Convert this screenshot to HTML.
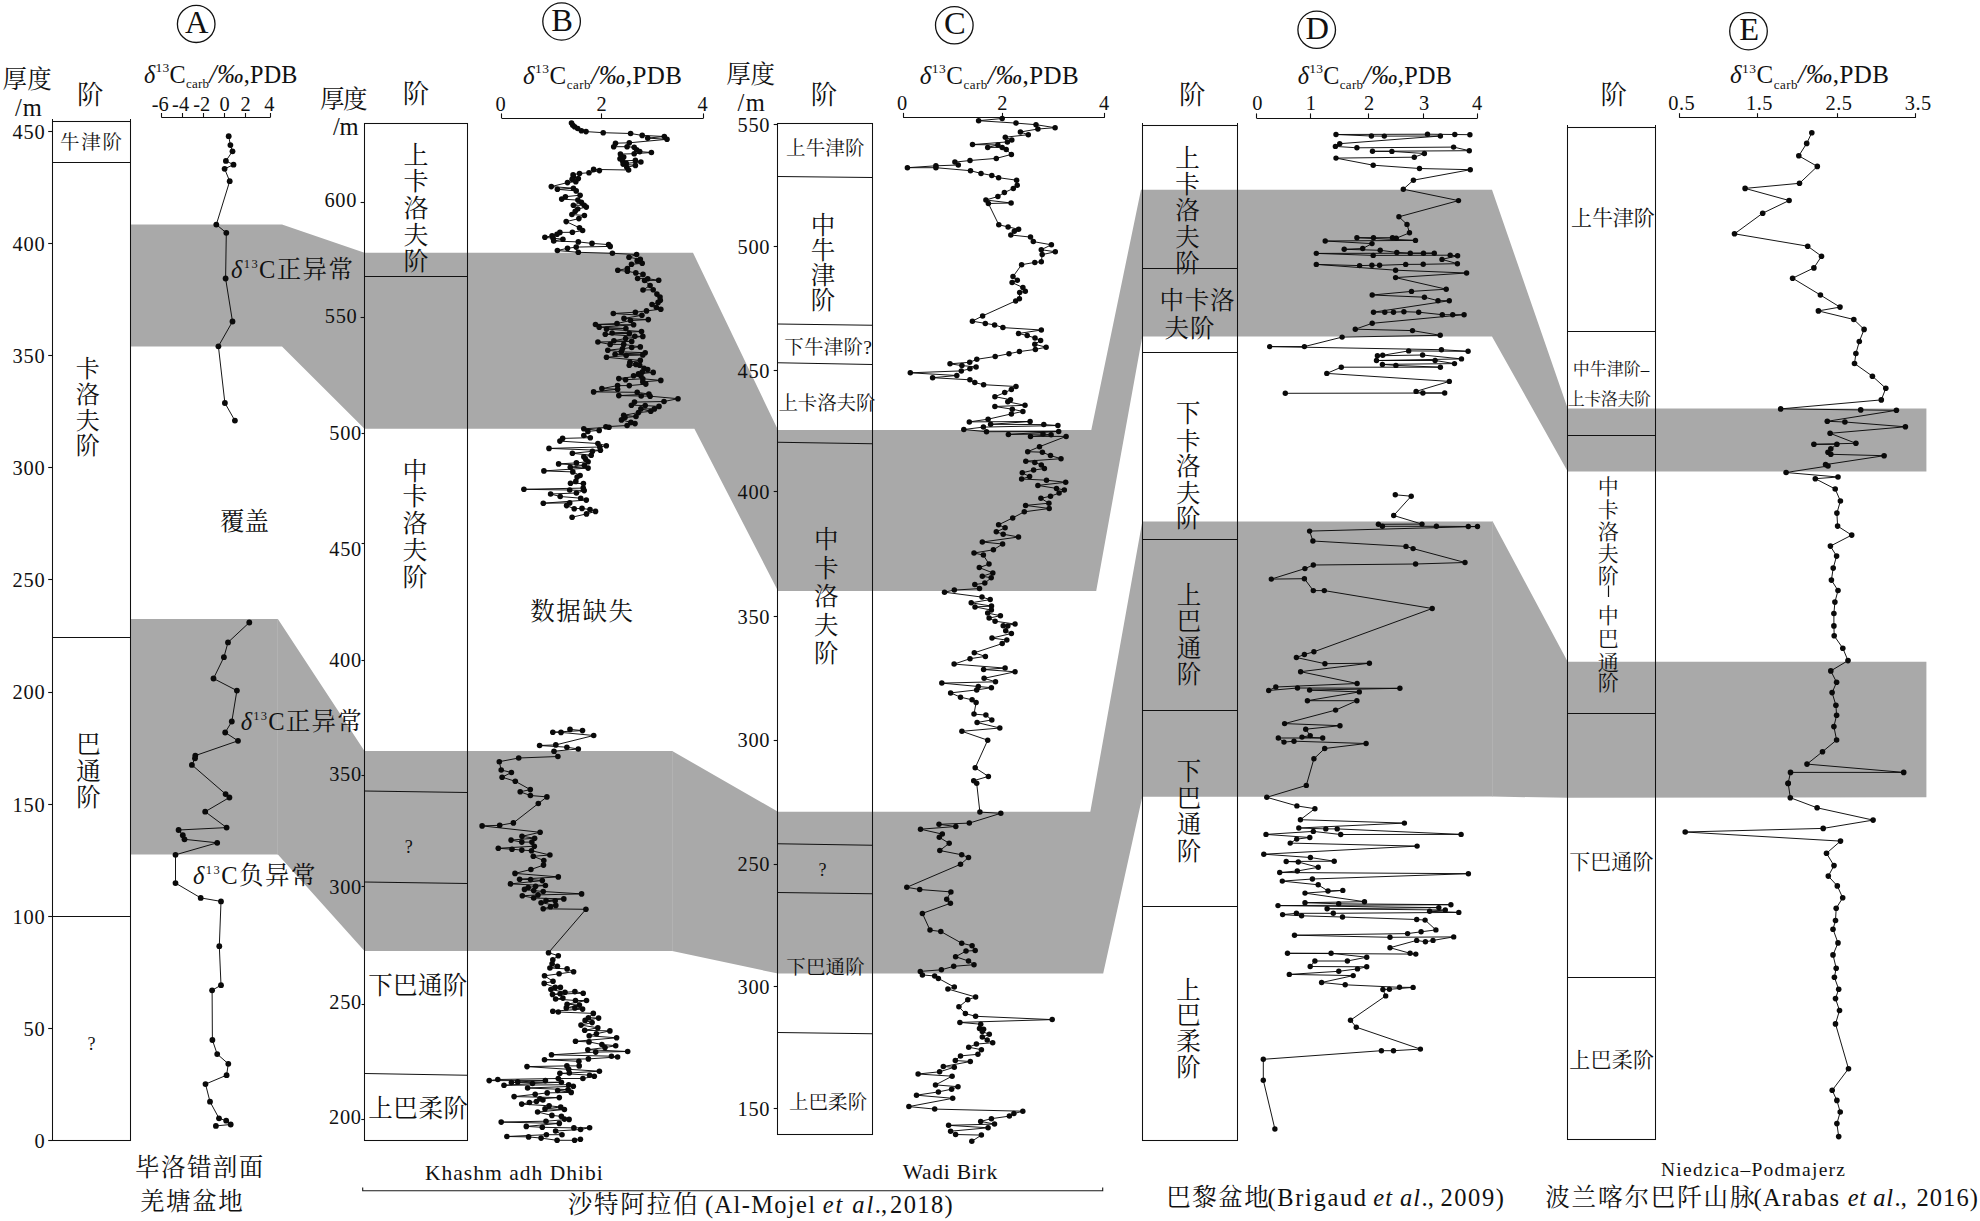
<!DOCTYPE html>
<html lang="zh"><head><meta charset="utf-8"><title>δ13C carb stratigraphic correlation</title>
<style>
html,body{margin:0;padding:0;background:#fff;}
body{width:1980px;height:1221px;overflow:hidden;}
svg{display:block;font-family:'Liberation Serif','Noto Serif CJK SC',serif;fill:#111;}
svg text{font-weight:400;}
</style></head><body>
<svg width="1980" height="1221" viewBox="0 0 1980 1221">
<rect width="1980" height="1221" fill="#fff"/>
<polygon points="130.0,224.5 282.0,224.5 364.5,252.7 693.0,252.7 778.0,430.0 1091.3,430.0 1141.0,189.8 1492.0,189.8 1567.7,408.4 1926.4,408.4 1926.4,471.5 1567.7,471.5 1492.0,336.4 1142.3,336.4 1096.2,591.0 778.0,591.0 694.4,428.7 364.5,428.7 282.0,346.6 130.0,346.6" fill="#a9a9a9"/>
<polygon points="130.0,619.0 277.9,619.0 364.5,751.0 672.2,751.0 778.0,811.8 1090.3,811.8 1142.3,521.5 1492.7,521.5 1567.7,661.8 1926.4,661.8 1926.4,797.3 1567.7,797.8 1492.7,796.6 1142.3,796.8 1103.2,973.6 778.0,973.6 672.2,951.0 364.5,951.0 277.9,854.5 130.0,854.5" fill="#a9a9a9"/>
<line x1="277.5" y1="619.0" x2="277.5" y2="854.5" stroke="#b8b8b8" stroke-width="0.60"/>
<line x1="672.5" y1="751.0" x2="672.5" y2="951.0" stroke="#b8b8b8" stroke-width="0.60"/>
<line x1="1492.5" y1="521.5" x2="1492.5" y2="796.6" stroke="#b8b8b8" stroke-width="0.60"/>
<rect x="52.5" y="121.5" width="78.0" height="1019.0" fill="none" stroke="#111" stroke-width="1.05"/>
<line x1="52.5" y1="162.5" x2="130.5" y2="162.5" stroke="#111" stroke-width="1.05"/>
<line x1="52.5" y1="637.5" x2="130.5" y2="637.5" stroke="#111" stroke-width="1.05"/>
<line x1="52.5" y1="916.5" x2="130.5" y2="916.5" stroke="#111" stroke-width="1.05"/>
<line x1="52.5" y1="119.0" x2="52.5" y2="121.5" stroke="#111" stroke-width="1.05"/>
<line x1="130.5" y1="119.0" x2="130.5" y2="121.5" stroke="#111" stroke-width="1.05"/>
<rect x="364.5" y="123.5" width="103.0" height="1017.0" fill="none" stroke="#111" stroke-width="1.05"/>
<line x1="364.5" y1="276.5" x2="467.5" y2="276.5" stroke="#111" stroke-width="1.05"/>
<line x1="364.5" y1="791.0" x2="467.5" y2="792.4" stroke="#111" stroke-width="1.05"/>
<line x1="364.5" y1="882.0" x2="467.5" y2="883.4" stroke="#111" stroke-width="1.05"/>
<line x1="364.5" y1="1073.4" x2="467.5" y2="1075.2" stroke="#111" stroke-width="1.05"/>
<rect x="777.5" y="123.5" width="95.0" height="1011.0" fill="none" stroke="#111" stroke-width="1.05"/>
<line x1="777.5" y1="176.4" x2="872.5" y2="177.4" stroke="#111" stroke-width="1.05"/>
<line x1="777.5" y1="324.0" x2="872.5" y2="325.3" stroke="#111" stroke-width="1.05"/>
<line x1="777.5" y1="362.8" x2="872.5" y2="364.5" stroke="#111" stroke-width="1.05"/>
<line x1="777.5" y1="442.3" x2="872.5" y2="443.7" stroke="#111" stroke-width="1.05"/>
<line x1="777.5" y1="843.8" x2="872.5" y2="845.2" stroke="#111" stroke-width="1.05"/>
<line x1="777.5" y1="892.4" x2="872.5" y2="893.8" stroke="#111" stroke-width="1.05"/>
<line x1="777.5" y1="1032.4" x2="872.5" y2="1033.8" stroke="#111" stroke-width="1.05"/>
<rect x="1142.5" y="125.5" width="95.0" height="1015.0" fill="none" stroke="#111" stroke-width="1.05"/>
<line x1="1142.5" y1="268.5" x2="1237.5" y2="268.5" stroke="#111" stroke-width="1.05"/>
<line x1="1142.5" y1="352.5" x2="1237.5" y2="352.5" stroke="#111" stroke-width="1.05"/>
<line x1="1142.5" y1="539.5" x2="1237.5" y2="539.5" stroke="#111" stroke-width="1.05"/>
<line x1="1142.5" y1="710.5" x2="1237.5" y2="710.5" stroke="#111" stroke-width="1.05"/>
<line x1="1142.5" y1="906.5" x2="1237.5" y2="906.5" stroke="#111" stroke-width="1.05"/>
<line x1="1142.5" y1="123.0" x2="1142.5" y2="125.5" stroke="#111" stroke-width="1.05"/>
<line x1="1237.5" y1="123.0" x2="1237.5" y2="125.5" stroke="#111" stroke-width="1.05"/>
<rect x="1567.5" y="127.5" width="88.0" height="1012.0" fill="none" stroke="#111" stroke-width="1.05"/>
<line x1="1567.5" y1="331.5" x2="1655.5" y2="331.5" stroke="#111" stroke-width="1.05"/>
<line x1="1567.5" y1="435.5" x2="1655.5" y2="435.5" stroke="#111" stroke-width="1.05"/>
<line x1="1567.5" y1="713.5" x2="1655.5" y2="713.5" stroke="#111" stroke-width="1.05"/>
<line x1="1567.5" y1="977.5" x2="1655.5" y2="977.5" stroke="#111" stroke-width="1.05"/>
<line x1="1567.5" y1="125.0" x2="1567.5" y2="127.5" stroke="#111" stroke-width="1.05"/>
<line x1="1655.5" y1="125.0" x2="1655.5" y2="127.5" stroke="#111" stroke-width="1.05"/>
<line x1="48.2" y1="131.5" x2="52.4" y2="131.5" stroke="#111" stroke-width="1.10"/>
<text x="45.3" y="138.5" font-size="20.4" text-anchor="end" letter-spacing="0.7">450</text>
<line x1="48.2" y1="243.5" x2="52.4" y2="243.5" stroke="#111" stroke-width="1.10"/>
<text x="45.3" y="250.7" font-size="20.4" text-anchor="end" letter-spacing="0.7">400</text>
<line x1="48.2" y1="355.5" x2="52.4" y2="355.5" stroke="#111" stroke-width="1.10"/>
<text x="45.3" y="362.8" font-size="20.4" text-anchor="end" letter-spacing="0.7">350</text>
<line x1="48.2" y1="467.5" x2="52.4" y2="467.5" stroke="#111" stroke-width="1.10"/>
<text x="45.3" y="475.0" font-size="20.4" text-anchor="end" letter-spacing="0.7">300</text>
<line x1="48.2" y1="579.5" x2="52.4" y2="579.5" stroke="#111" stroke-width="1.10"/>
<text x="45.3" y="587.2" font-size="20.4" text-anchor="end" letter-spacing="0.7">250</text>
<line x1="48.2" y1="692.5" x2="52.4" y2="692.5" stroke="#111" stroke-width="1.10"/>
<text x="45.3" y="699.3" font-size="20.4" text-anchor="end" letter-spacing="0.7">200</text>
<line x1="48.2" y1="804.5" x2="52.4" y2="804.5" stroke="#111" stroke-width="1.10"/>
<text x="45.3" y="811.5" font-size="20.4" text-anchor="end" letter-spacing="0.7">150</text>
<line x1="48.2" y1="916.5" x2="52.4" y2="916.5" stroke="#111" stroke-width="1.10"/>
<text x="45.3" y="923.7" font-size="20.4" text-anchor="end" letter-spacing="0.7">100</text>
<line x1="48.2" y1="1028.5" x2="52.4" y2="1028.5" stroke="#111" stroke-width="1.10"/>
<text x="45.3" y="1035.9" font-size="20.4" text-anchor="end" letter-spacing="0.7">50</text>
<line x1="48.2" y1="1140.5" x2="52.4" y2="1140.5" stroke="#111" stroke-width="1.10"/>
<text x="45.3" y="1148.0" font-size="20.4" text-anchor="end" letter-spacing="0.7">0</text>
<line x1="360.6" y1="202.5" x2="364.7" y2="202.5" stroke="#111" stroke-width="1.10"/>
<text x="357.1" y="207.3" font-size="20.4" text-anchor="end" letter-spacing="0.7">600</text>
<line x1="360.6" y1="317.5" x2="364.7" y2="317.5" stroke="#111" stroke-width="1.10"/>
<text x="357.5" y="323.4" font-size="20.4" text-anchor="end" letter-spacing="0.7">550</text>
<line x1="361.6" y1="433.5" x2="364.7" y2="433.5" stroke="#111" stroke-width="1.10"/>
<text x="362.0" y="439.9" font-size="20.4" text-anchor="end" letter-spacing="0.7">500</text>
<line x1="361.6" y1="543.5" x2="364.7" y2="543.5" stroke="#111" stroke-width="1.10"/>
<text x="362.0" y="556.1" font-size="20.4" text-anchor="end" letter-spacing="0.7">450</text>
<line x1="361.5" y1="660.5" x2="364.7" y2="660.5" stroke="#111" stroke-width="1.10"/>
<text x="361.9" y="666.9" font-size="20.4" text-anchor="end" letter-spacing="0.7">400</text>
<line x1="361.5" y1="775.5" x2="364.7" y2="775.5" stroke="#111" stroke-width="1.10"/>
<text x="361.9" y="781.1" font-size="20.4" text-anchor="end" letter-spacing="0.7">350</text>
<line x1="361.6" y1="886.5" x2="364.7" y2="886.5" stroke="#111" stroke-width="1.10"/>
<text x="362.0" y="894.1" font-size="20.4" text-anchor="end" letter-spacing="0.7">300</text>
<line x1="361.6" y1="1004.5" x2="364.7" y2="1004.5" stroke="#111" stroke-width="1.10"/>
<text x="362.0" y="1008.5" font-size="20.4" text-anchor="end" letter-spacing="0.7">250</text>
<line x1="361.3" y1="1119.5" x2="364.7" y2="1119.5" stroke="#111" stroke-width="1.10"/>
<text x="361.7" y="1124.1" font-size="20.4" text-anchor="end" letter-spacing="0.7">200</text>
<line x1="773.7" y1="124.5" x2="778.0" y2="124.5" stroke="#111" stroke-width="1.10"/>
<text x="770.2" y="131.8" font-size="20.4" text-anchor="end" letter-spacing="0.7">550</text>
<line x1="773.7" y1="246.5" x2="778.0" y2="246.5" stroke="#111" stroke-width="1.10"/>
<text x="770.2" y="253.9" font-size="20.4" text-anchor="end" letter-spacing="0.7">500</text>
<line x1="773.7" y1="370.5" x2="778.0" y2="370.5" stroke="#111" stroke-width="1.10"/>
<text x="770.2" y="377.5" font-size="20.4" text-anchor="end" letter-spacing="0.7">450</text>
<line x1="773.7" y1="491.5" x2="778.0" y2="491.5" stroke="#111" stroke-width="1.10"/>
<text x="770.2" y="498.5" font-size="20.4" text-anchor="end" letter-spacing="0.7">400</text>
<line x1="773.7" y1="616.5" x2="778.0" y2="616.5" stroke="#111" stroke-width="1.10"/>
<text x="770.2" y="623.5" font-size="20.4" text-anchor="end" letter-spacing="0.7">350</text>
<line x1="773.7" y1="740.5" x2="778.0" y2="740.5" stroke="#111" stroke-width="1.10"/>
<text x="770.2" y="747.2" font-size="20.4" text-anchor="end" letter-spacing="0.7">300</text>
<line x1="773.7" y1="864.5" x2="778.0" y2="864.5" stroke="#111" stroke-width="1.10"/>
<text x="770.2" y="871.2" font-size="20.4" text-anchor="end" letter-spacing="0.7">250</text>
<line x1="773.7" y1="986.5" x2="778.0" y2="986.5" stroke="#111" stroke-width="1.10"/>
<text x="770.2" y="993.5" font-size="20.4" text-anchor="end" letter-spacing="0.7">300</text>
<line x1="773.7" y1="1108.5" x2="778.0" y2="1108.5" stroke="#111" stroke-width="1.10"/>
<text x="770.2" y="1115.5" font-size="20.4" text-anchor="end" letter-spacing="0.7">150</text>
<ellipse cx="196.2" cy="23.9" rx="18.8" ry="18.6" fill="none" stroke="#111" stroke-width="1.3"/>
<text x="196.8" y="32.9" font-size="32.5" text-anchor="middle">A</text>
<ellipse cx="561.6" cy="21.5" rx="18.8" ry="18.6" fill="none" stroke="#111" stroke-width="1.3"/>
<text x="562.2" y="30.5" font-size="32.5" text-anchor="middle">B</text>
<ellipse cx="954.3" cy="25.3" rx="18.8" ry="18.6" fill="none" stroke="#111" stroke-width="1.3"/>
<text x="954.9" y="34.3" font-size="32.5" text-anchor="middle">C</text>
<ellipse cx="1316.7" cy="29.8" rx="18.8" ry="18.6" fill="none" stroke="#111" stroke-width="1.3"/>
<text x="1317.3" y="38.8" font-size="32.5" text-anchor="middle">D</text>
<ellipse cx="1748.5" cy="31.2" rx="18.8" ry="18.6" fill="none" stroke="#111" stroke-width="1.3"/>
<text x="1749.1" y="40.2" font-size="32.5" text-anchor="middle">E</text>
<text x="144.0" y="82.6" font-size="24.2" textLength="153.5" lengthAdjust="spacing"><tspan font-style="italic">δ</tspan><tspan font-size="13.5" dy="-10.5">13</tspan><tspan dy="10.5">C</tspan><tspan font-size="13" dy="5.5">carb</tspan><tspan dy="-5.5" font-style="italic" font-size="26.5">/‰</tspan>,PDB</text>
<text x="523.0" y="83.8" font-size="25.0" textLength="159.0" lengthAdjust="spacing"><tspan font-style="italic">δ</tspan><tspan font-size="13.5" dy="-10.5">13</tspan><tspan dy="10.5">C</tspan><tspan font-size="13" dy="5.5">carb</tspan><tspan dy="-5.5" font-style="italic" font-size="26.5">/‰</tspan>,PDB</text>
<text x="919.7" y="83.8" font-size="25.0" textLength="159.1" lengthAdjust="spacing"><tspan font-style="italic">δ</tspan><tspan font-size="13.5" dy="-10.5">13</tspan><tspan dy="10.5">C</tspan><tspan font-size="13" dy="5.5">carb</tspan><tspan dy="-5.5" font-style="italic" font-size="26.5">/‰</tspan>,PDB</text>
<text x="1297.7" y="83.8" font-size="24.2" textLength="154.1" lengthAdjust="spacing"><tspan font-style="italic">δ</tspan><tspan font-size="13.5" dy="-10.5">13</tspan><tspan dy="10.5">C</tspan><tspan font-size="13" dy="5.5">carb</tspan><tspan dy="-5.5" font-style="italic" font-size="26.5">/‰</tspan>,PDB</text>
<text x="1730.0" y="83.3" font-size="25.0" textLength="159.0" lengthAdjust="spacing"><tspan font-style="italic">δ</tspan><tspan font-size="13.5" dy="-10.5">13</tspan><tspan dy="10.5">C</tspan><tspan font-size="13" dy="5.5">carb</tspan><tspan dy="-5.5" font-style="italic" font-size="26.5">/‰</tspan>,PDB</text>
<text x="2.5" y="87.6" font-size="24.5" textLength="49.3" lengthAdjust="spacing">厚度</text>
<text x="15.0" y="116.0" font-size="24.5" textLength="26.7" lengthAdjust="spacing">/m</text>
<text x="320.0" y="108.0" font-size="24.5" textLength="47.4" lengthAdjust="spacing">厚度</text>
<text x="333.0" y="135.0" font-size="24.5" textLength="25.6" lengthAdjust="spacing">/m</text>
<text x="726.2" y="82.6" font-size="24.5" textLength="48.8" lengthAdjust="spacing">厚度</text>
<text x="737.6" y="111.0" font-size="24.5" textLength="27.2" lengthAdjust="spacing">/m</text>
<text x="77.0" y="103.5" font-size="26.5" textLength="26.5" lengthAdjust="spacing">阶</text>
<text x="402.8" y="102.7" font-size="26.5" textLength="26.5" lengthAdjust="spacing">阶</text>
<text x="810.8" y="103.5" font-size="26.5" textLength="26.5" lengthAdjust="spacing">阶</text>
<text x="1179.0" y="103.5" font-size="26.5" textLength="27.0" lengthAdjust="spacing">阶</text>
<text x="1600.6" y="103.5" font-size="26.5" textLength="26.4" lengthAdjust="spacing">阶</text>
<line x1="161.6" y1="117.5" x2="270.2" y2="117.5" stroke="#111" stroke-width="1.10"/>
<line x1="161.5" y1="113.0" x2="161.5" y2="117.6" stroke="#111" stroke-width="1.10"/>
<line x1="182.5" y1="113.0" x2="182.5" y2="117.6" stroke="#111" stroke-width="1.10"/>
<line x1="203.5" y1="113.0" x2="203.5" y2="117.6" stroke="#111" stroke-width="1.10"/>
<line x1="224.5" y1="113.0" x2="224.5" y2="117.6" stroke="#111" stroke-width="1.10"/>
<line x1="245.5" y1="113.0" x2="245.5" y2="117.6" stroke="#111" stroke-width="1.10"/>
<line x1="270.5" y1="113.0" x2="270.5" y2="117.6" stroke="#111" stroke-width="1.10"/>
<text x="160.3" y="111.0" font-size="20.4" text-anchor="middle">-6</text>
<text x="180.6" y="111.0" font-size="20.4" text-anchor="middle">-4</text>
<text x="201.8" y="111.0" font-size="20.4" text-anchor="middle">-2</text>
<text x="224.7" y="111.0" font-size="20.4" text-anchor="middle">0</text>
<text x="245.6" y="111.0" font-size="20.4" text-anchor="middle">2</text>
<text x="269.3" y="111.0" font-size="20.4" text-anchor="middle">4</text>
<line x1="501.5" y1="118.5" x2="703.6" y2="118.5" stroke="#111" stroke-width="1.10"/>
<line x1="501.5" y1="113.4" x2="501.5" y2="118.0" stroke="#111" stroke-width="1.10"/>
<line x1="601.5" y1="113.4" x2="601.5" y2="118.0" stroke="#111" stroke-width="1.10"/>
<line x1="703.5" y1="113.4" x2="703.5" y2="118.0" stroke="#111" stroke-width="1.10"/>
<text x="500.7" y="110.6" font-size="20.4" text-anchor="middle">0</text>
<text x="601.7" y="110.6" font-size="20.4" text-anchor="middle">2</text>
<text x="702.7" y="110.6" font-size="20.4" text-anchor="middle">4</text>
<line x1="903.1" y1="117.5" x2="1104.8" y2="117.5" stroke="#111" stroke-width="1.10"/>
<line x1="903.5" y1="112.9" x2="903.5" y2="117.5" stroke="#111" stroke-width="1.10"/>
<line x1="1002.5" y1="112.9" x2="1002.5" y2="117.5" stroke="#111" stroke-width="1.10"/>
<line x1="1104.5" y1="112.9" x2="1104.5" y2="117.5" stroke="#111" stroke-width="1.10"/>
<text x="902.2" y="110.0" font-size="20.4" text-anchor="middle">0</text>
<text x="1002.3" y="110.0" font-size="20.4" text-anchor="middle">2</text>
<text x="1104.0" y="110.0" font-size="20.4" text-anchor="middle">4</text>
<line x1="1256.4" y1="118.5" x2="1477.6" y2="118.5" stroke="#111" stroke-width="1.10"/>
<line x1="1256.5" y1="113.4" x2="1256.5" y2="118.0" stroke="#111" stroke-width="1.10"/>
<line x1="1310.5" y1="113.4" x2="1310.5" y2="118.0" stroke="#111" stroke-width="1.10"/>
<line x1="1368.5" y1="113.4" x2="1368.5" y2="118.0" stroke="#111" stroke-width="1.10"/>
<line x1="1423.5" y1="113.4" x2="1423.5" y2="118.0" stroke="#111" stroke-width="1.10"/>
<line x1="1477.5" y1="113.4" x2="1477.5" y2="118.0" stroke="#111" stroke-width="1.10"/>
<text x="1257.3" y="110.0" font-size="20.4" text-anchor="middle">0</text>
<text x="1310.9" y="110.0" font-size="20.4" text-anchor="middle">1</text>
<text x="1369.2" y="110.0" font-size="20.4" text-anchor="middle">2</text>
<text x="1424.0" y="110.0" font-size="20.4" text-anchor="middle">3</text>
<text x="1477.0" y="110.0" font-size="20.4" text-anchor="middle">4</text>
<line x1="1679.4" y1="117.5" x2="1915.7" y2="117.5" stroke="#111" stroke-width="1.10"/>
<line x1="1679.5" y1="113.2" x2="1679.5" y2="117.8" stroke="#111" stroke-width="1.10"/>
<line x1="1757.5" y1="113.2" x2="1757.5" y2="117.8" stroke="#111" stroke-width="1.10"/>
<line x1="1837.5" y1="113.2" x2="1837.5" y2="117.8" stroke="#111" stroke-width="1.10"/>
<line x1="1915.5" y1="113.2" x2="1915.5" y2="117.8" stroke="#111" stroke-width="1.10"/>
<text x="1681.5" y="109.5" font-size="20.4" text-anchor="middle" textLength="26.5" lengthAdjust="spacing">0.5</text>
<text x="1759.2" y="109.5" font-size="20.4" text-anchor="middle" textLength="26.5" lengthAdjust="spacing">1.5</text>
<text x="1838.8" y="109.5" font-size="20.4" text-anchor="middle" textLength="26.5" lengthAdjust="spacing">2.5</text>
<text x="1918.0" y="109.5" font-size="20.4" text-anchor="middle" textLength="26.5" lengthAdjust="spacing">3.5</text>
<text x="60.0" y="148.7" font-size="19.5" textLength="62.0" lengthAdjust="spacing">牛津阶</text>
<text font-size="24.0" text-anchor="middle"><tspan x="87.7" y="376.6">卡</tspan><tspan x="87.7" y="403.1">洛</tspan><tspan x="87.7" y="428.8">夫</tspan><tspan x="87.7" y="454.3">阶</tspan></text>
<text font-size="24.5" text-anchor="middle"><tspan x="88.4" y="752.7">巴</tspan><tspan x="88.4" y="780.2">通</tspan><tspan x="88.4" y="806.3">阶</tspan></text>
<text x="91.4" y="1049.5" font-size="18.0" text-anchor="middle">?</text>
<text x="220.0" y="529.8" font-size="24.5" textLength="49.0" lengthAdjust="spacing">覆盖</text>
<text x="231.0" y="277.5" font-size="24.5" textLength="122.0" lengthAdjust="spacing"><tspan font-style="italic">δ</tspan><tspan font-size="12.5" dy="-10">13</tspan><tspan dy="10">C</tspan>正异常</text>
<text x="240.7" y="730.0" font-size="24.5" textLength="121.1" lengthAdjust="spacing"><tspan font-style="italic">δ</tspan><tspan font-size="12.5" dy="-10">13</tspan><tspan dy="10">C</tspan>正异常</text>
<text x="193.0" y="884.0" font-size="24.5" textLength="122.5" lengthAdjust="spacing"><tspan font-style="italic">δ</tspan><tspan font-size="12.5" dy="-10">13</tspan><tspan dy="10">C</tspan>负异常</text>
<text font-size="25.0" text-anchor="middle"><tspan x="415.9" y="163.7">上</tspan><tspan x="415.9" y="189.5">卡</tspan><tspan x="415.9" y="217.0">洛</tspan><tspan x="415.9" y="243.9">夫</tspan><tspan x="415.9" y="270.3">阶</tspan></text>
<text font-size="25.0" text-anchor="middle"><tspan x="415.0" y="479.5">中</tspan><tspan x="415.0" y="505.3">卡</tspan><tspan x="415.0" y="532.0">洛</tspan><tspan x="415.0" y="558.6">夫</tspan><tspan x="415.0" y="586.0">阶</tspan></text>
<text x="408.8" y="852.5" font-size="18.0" text-anchor="middle">?</text>
<text x="368.3" y="994.3" font-size="24.5" textLength="98.9" lengthAdjust="spacing">下巴通阶</text>
<text x="368.3" y="1116.8" font-size="24.5" textLength="99.7" lengthAdjust="spacing">上巴柔阶</text>
<text x="530.2" y="620.4" font-size="24.5" textLength="102.8" lengthAdjust="spacing">数据缺失</text>
<text x="786.0" y="154.9" font-size="19.5" textLength="78.4" lengthAdjust="spacing">上牛津阶</text>
<text font-size="24.5" text-anchor="middle"><tspan x="823.0" y="234.0">中</tspan><tspan x="823.0" y="258.6">牛</tspan><tspan x="823.0" y="283.9">津</tspan><tspan x="823.0" y="309.0">阶</tspan></text>
<text x="784.3" y="354.3" font-size="19.5" textLength="87.7" lengthAdjust="spacing">下牛津阶?</text>
<text x="778.4" y="410.0" font-size="19.5" textLength="97.0" lengthAdjust="spacing">上卡洛夫阶</text>
<text font-size="24.5" text-anchor="middle"><tspan x="826.3" y="548.4">中</tspan><tspan x="826.3" y="576.7">卡</tspan><tspan x="826.3" y="605.2">洛</tspan><tspan x="826.3" y="634.2">夫</tspan><tspan x="826.3" y="662.3">阶</tspan></text>
<text x="822.4" y="875.5" font-size="18.0" text-anchor="middle">?</text>
<text x="786.2" y="974.2" font-size="19.5" textLength="78.6" lengthAdjust="spacing">下巴通阶</text>
<text x="789.0" y="1108.7" font-size="19.5" textLength="78.2" lengthAdjust="spacing">上巴柔阶</text>
<text font-size="24.5" text-anchor="middle"><tspan x="1187.4" y="166.8">上</tspan><tspan x="1187.4" y="193.1">卡</tspan><tspan x="1187.4" y="219.2">洛</tspan><tspan x="1187.4" y="245.6">夫</tspan><tspan x="1187.4" y="271.8">阶</tspan></text>
<text x="1159.5" y="308.8" font-size="24.5" textLength="74.9" lengthAdjust="spacing">中卡洛</text>
<text x="1164.4" y="337.0" font-size="24.5" textLength="50.1" lengthAdjust="spacing">夫阶</text>
<text font-size="24.5" text-anchor="middle"><tspan x="1188.3" y="422.3">下</tspan><tspan x="1188.3" y="450.0">卡</tspan><tspan x="1188.3" y="475.4">洛</tspan><tspan x="1188.3" y="501.6">夫</tspan><tspan x="1188.3" y="527.4">阶</tspan></text>
<text font-size="24.5" text-anchor="middle"><tspan x="1188.9" y="604.3">上</tspan><tspan x="1188.9" y="630.3">巴</tspan><tspan x="1188.9" y="657.1">通</tspan><tspan x="1188.9" y="682.8">阶</tspan></text>
<text font-size="24.5" text-anchor="middle"><tspan x="1188.9" y="780.3">下</tspan><tspan x="1188.9" y="806.8">巴</tspan><tspan x="1188.9" y="833.3">通</tspan><tspan x="1188.9" y="859.8">阶</tspan></text>
<text font-size="24.5" text-anchor="middle"><tspan x="1188.5" y="998.5">上</tspan><tspan x="1188.5" y="1024.3">巴</tspan><tspan x="1188.5" y="1050.2">柔</tspan><tspan x="1188.5" y="1076.0">阶</tspan></text>
<text x="1571.0" y="224.9" font-size="21.0" textLength="83.7" lengthAdjust="spacing">上牛津阶</text>
<text x="1572.8" y="375.1" font-size="17.0" textLength="76.4" lengthAdjust="spacing">中牛津阶–</text>
<text x="1567.7" y="405.1" font-size="17.0" textLength="83.3" lengthAdjust="spacing">上卡洛夫阶</text>
<text font-size="21.0" text-anchor="middle"><tspan x="1608.3" y="494.2">中</tspan><tspan x="1608.3" y="516.6">卡</tspan><tspan x="1608.3" y="538.9">洛</tspan><tspan x="1608.3" y="561.3">夫</tspan><tspan x="1608.3" y="582.9">阶</tspan></text>
<line x1="1608.5" y1="585.5" x2="1608.5" y2="597.0" stroke="#111" stroke-width="1.20"/>
<text font-size="21.0" text-anchor="middle"><tspan x="1608.3" y="622.5">中</tspan><tspan x="1608.3" y="646.2">巴</tspan><tspan x="1608.3" y="669.6">通</tspan><tspan x="1608.3" y="690.2">阶</tspan></text>
<text x="1569.2" y="868.9" font-size="21.0" textLength="84.2" lengthAdjust="spacing">下巴通阶</text>
<text x="1569.2" y="1066.5" font-size="21.0" textLength="84.8" lengthAdjust="spacing">上巴柔阶</text>
<text x="135.0" y="1176.3" font-size="24.5" textLength="128.3" lengthAdjust="spacing">毕洛错剖面</text>
<text x="140.0" y="1210.1" font-size="24.5" textLength="102.7" lengthAdjust="spacing">羌塘盆地</text>
<text x="425.0" y="1180.0" font-size="21.5" textLength="177.7" lengthAdjust="spacing">Khashm adh Dhibi</text>
<text x="902.7" y="1179.0" font-size="21.5" textLength="94.6" lengthAdjust="spacing">Wadi Birk</text>
<polyline points="362.7,1187.5 362.7,1190.7 1102.7,1190.7 1102.7,1187.5" fill="none" stroke="#1a1a1a" stroke-width="1.1"/>
<text x="567.7" y="1213.3" font-size="24.5" textLength="129.8" lengthAdjust="spacing">沙特阿拉伯</text>
<text x="705.0" y="1213.3" font-size="24.5" textLength="110.0" lengthAdjust="spacing">(Al-Mojel</text>
<text x="822.7" y="1213.3" font-size="24.5" textLength="50.6" lengthAdjust="spacing" font-style="italic">et al</text>
<text x="874.8" y="1213.3" font-size="24.5">.,</text>
<text x="890.0" y="1213.3" font-size="24.5" textLength="62.7" lengthAdjust="spacing">2018)</text>
<text x="1166.3" y="1205.8" font-size="24.5" textLength="102.5" lengthAdjust="spacing">巴黎盆地</text>
<text x="1267.5" y="1205.8" font-size="24.5" textLength="98.5" lengthAdjust="spacing">(Brigaud</text>
<text x="1373.3" y="1205.8" font-size="24.5" textLength="46.7" lengthAdjust="spacing" font-style="italic">et al</text>
<text x="1421.5" y="1205.8" font-size="24.5">.,</text>
<text x="1440.4" y="1205.8" font-size="24.5" textLength="63.6" lengthAdjust="spacing">2009)</text>
<text x="1545.2" y="1206.0" font-size="24.5" textLength="209.3" lengthAdjust="spacing">波兰喀尔巴阡山脉</text>
<text x="1753.5" y="1206.0" font-size="24.5" textLength="85.5" lengthAdjust="spacing">(Arabas</text>
<text x="1847.7" y="1206.0" font-size="24.5" textLength="45.3" lengthAdjust="spacing" font-style="italic">et al</text>
<text x="1894.5" y="1206.0" font-size="24.5">.,</text>
<text x="1916.4" y="1206.0" font-size="24.5" textLength="61.6" lengthAdjust="spacing">2016)</text>
<text x="1661.0" y="1176.0" font-size="19.5" textLength="184.0" lengthAdjust="spacing">Niedzica–Podmajerz</text>
<polyline points="228.7,136.2 230.4,145.1 232.5,151.3 225.9,160.9 233.5,164.7 224.6,168.8 229.7,181.2 216.3,224.6 226.3,232.8 225.6,278.5 232.5,321.5 218.4,346.3 224.9,403.0 234.9,420.6" fill="none" stroke="#0a0a0a" stroke-width="0.95" stroke-linejoin="round"/>
<g fill="#0a0a0a"><circle cx="228.7" cy="136.2" r="2.90"/><circle cx="230.4" cy="145.1" r="2.90"/><circle cx="232.5" cy="151.3" r="2.90"/><circle cx="225.9" cy="160.9" r="2.90"/><circle cx="233.5" cy="164.7" r="2.90"/><circle cx="224.6" cy="168.8" r="2.90"/><circle cx="229.7" cy="181.2" r="2.90"/><circle cx="216.3" cy="224.6" r="2.90"/><circle cx="226.3" cy="232.8" r="2.90"/><circle cx="225.6" cy="278.5" r="2.90"/><circle cx="232.5" cy="321.5" r="2.90"/><circle cx="218.4" cy="346.3" r="2.90"/><circle cx="224.9" cy="403.0" r="2.90"/><circle cx="234.9" cy="420.6" r="2.90"/></g>
<polyline points="249.3,622.5 228.0,642.4 223.9,657.2 213.5,678.5 236.9,690.6 231.8,721.5 225.2,732.5 238.0,740.8 195.3,755.6 195.0,758.3 191.9,764.9 225.6,794.1 229.4,797.5 205.2,811.7 226.6,827.6 178.6,830.0 182.8,835.2 184.5,839.3 217.2,842.8 175.5,854.8 175.5,883.1 200.7,897.9 221.0,901.4 219.3,946.2 221.0,985.2 212.1,990.3 212.4,1040.0 217.2,1054.1 228.3,1063.8 226.6,1075.2 205.5,1084.1 210.0,1101.7 219.0,1118.3 226.2,1120.7 230.7,1124.5 215.9,1125.9" fill="none" stroke="#0a0a0a" stroke-width="0.95" stroke-linejoin="round"/>
<g fill="#0a0a0a"><circle cx="249.3" cy="622.5" r="2.90"/><circle cx="228.0" cy="642.4" r="2.90"/><circle cx="223.9" cy="657.2" r="2.90"/><circle cx="213.5" cy="678.5" r="2.90"/><circle cx="236.9" cy="690.6" r="2.90"/><circle cx="231.8" cy="721.5" r="2.90"/><circle cx="225.2" cy="732.5" r="2.90"/><circle cx="238.0" cy="740.8" r="2.90"/><circle cx="195.3" cy="755.6" r="2.90"/><circle cx="195.0" cy="758.3" r="2.90"/><circle cx="191.9" cy="764.9" r="2.90"/><circle cx="225.6" cy="794.1" r="2.90"/><circle cx="229.4" cy="797.5" r="2.90"/><circle cx="205.2" cy="811.7" r="2.90"/><circle cx="226.6" cy="827.6" r="2.90"/><circle cx="178.6" cy="830.0" r="2.90"/><circle cx="182.8" cy="835.2" r="2.90"/><circle cx="184.5" cy="839.3" r="2.90"/><circle cx="217.2" cy="842.8" r="2.90"/><circle cx="175.5" cy="854.8" r="2.90"/><circle cx="175.5" cy="883.1" r="2.90"/><circle cx="200.7" cy="897.9" r="2.90"/><circle cx="221.0" cy="901.4" r="2.90"/><circle cx="219.3" cy="946.2" r="2.90"/><circle cx="221.0" cy="985.2" r="2.90"/><circle cx="212.1" cy="990.3" r="2.90"/><circle cx="212.4" cy="1040.0" r="2.90"/><circle cx="217.2" cy="1054.1" r="2.90"/><circle cx="228.3" cy="1063.8" r="2.90"/><circle cx="226.6" cy="1075.2" r="2.90"/><circle cx="205.5" cy="1084.1" r="2.90"/><circle cx="210.0" cy="1101.7" r="2.90"/><circle cx="219.0" cy="1118.3" r="2.90"/><circle cx="226.2" cy="1120.7" r="2.90"/><circle cx="230.7" cy="1124.5" r="2.90"/><circle cx="215.9" cy="1125.9" r="2.90"/></g>
<polyline points="571.5,123.0 572.8,125.2 574.6,126.8 577.7,128.5 581.4,130.7 586.0,131.6 603.2,132.7 630.6,133.5 642.2,135.4 664.3,136.5 647.7,138.1 667.0,139.3 629.3,142.8 615.5,143.2 613.7,146.7 627.1,146.7 634.2,147.3 636.6,149.8 639.7,151.6 651.4,152.5 634.2,153.7 620.4,154.1 621.3,156.5 623.7,157.1 620.0,158.7 622.5,160.8 635.4,160.4 640.9,162.0 626.2,163.3 623.1,164.1 635.4,165.4 626.8,167.3 628.6,170.0 593.6,169.4 599.4,170.6 589.0,172.7 579.5,173.5 573.1,174.7 573.4,176.8 578.3,178.6 572.1,179.2 575.8,181.7 567.5,182.6 551.3,186.6 573.4,188.2 557.4,189.3 576.2,190.9 580.1,195.2 565.4,196.7 561.7,199.1 577.9,200.1 581.4,202.2 573.4,205.3 584.2,205.3 586.3,207.1 577.7,209.0 575.2,211.2 571.9,214.5 584.4,215.5 578.9,218.6 566.2,221.6 579.5,227.8 582.6,230.5 572.4,232.3 559.9,232.4 557.0,234.2 552.1,235.7 544.9,237.3 553.1,238.2 562.9,239.2 553.7,241.0 578.3,241.9 592.0,243.4 608.6,244.6 610.2,246.4 576.2,247.1 567.5,248.3 557.4,250.5 578.3,252.3 612.4,253.3 636.6,254.5 629.0,257.2 640.3,259.4 637.2,260.9 642.2,263.3 631.5,264.3 627.4,268.5 617.8,270.3 627.4,271.3 635.8,272.9 643.0,274.4 637.6,278.5 647.7,278.7 658.7,280.3 644.6,280.5 650.1,285.5 643.0,290.0 653.2,289.8 656.9,294.1 660.0,297.1 660.3,300.2 658.1,302.4 652.0,304.5 656.3,307.3 660.8,309.2 646.5,310.9 635.4,312.2 613.3,313.5 641.9,315.3 624.0,318.4 648.3,319.6 630.5,320.5 617.0,323.5 595.5,324.5 633.6,324.8 599.2,327.2 625.9,328.5 606.5,329.1 641.5,331.5 612.1,333.0 629.3,333.4 605.3,334.2 634.8,336.2 642.8,336.4 625.6,338.5 613.9,340.7 631.7,341.4 597.9,342.0 610.2,344.4 623.7,344.4 640.3,346.9 631.7,347.5 622.5,348.7 607.8,350.2 621.3,351.8 645.2,352.7 615.1,354.3 642.8,354.9 626.2,355.5 606.5,357.3 640.3,360.4 629.9,362.2 636.0,364.4 629.3,365.3 639.7,365.3 644.0,368.4 647.7,369.6 642.2,372.1 653.2,372.4 638.5,373.9 633.6,375.7 640.9,375.7 618.8,378.6 625.6,379.7 642.8,378.8 660.8,380.4 642.8,381.9 645.8,384.1 629.3,385.6 617.6,385.6 601.9,388.6 617.6,389.2 593.6,391.9 637.2,392.3 648.9,394.1 618.8,395.6 641.2,396.0 650.1,396.2 678.0,398.7 664.0,401.5 634.5,402.1 631.4,405.2 645.2,405.6 659.0,406.4 654.4,408.9 640.9,408.9 650.8,411.3 638.5,412.6 623.7,415.3 636.0,416.5 625.0,417.5 621.5,419.9 630.9,422.4 635.0,423.6 627.1,425.5 605.9,426.7 609.0,427.3 583.8,428.8 599.2,430.4 587.9,431.4 583.8,435.5 590.3,437.7 562.6,438.4 559.9,441.1 597.9,443.5 606.3,445.7 599.8,447.0 549.0,448.4 600.4,450.3 592.4,451.3 572.4,453.3 591.2,455.2 583.8,456.8 585.7,459.2 588.1,461.7 576.4,462.9 558.6,463.9 584.4,465.4 570.3,467.2 588.1,468.1 543.9,470.9 572.8,471.9 580.1,475.5 577.1,477.1 575.8,481.4 570.5,483.2 583.4,483.6 583.2,488.1 523.9,489.3 569.7,490.0 584.2,490.6 576.4,493.0 550.6,494.0 560.2,496.5 580.7,498.2 586.3,500.1 543.3,503.2 569.7,502.9 566.6,505.6 574.2,508.7 582.0,508.4 590.0,509.6 595.5,511.4 586.5,513.9 572.1,517.2" fill="none" stroke="#0a0a0a" stroke-width="0.95" stroke-linejoin="round"/>
<g fill="#0a0a0a"><circle cx="571.5" cy="123.0" r="2.80"/><circle cx="572.8" cy="125.2" r="2.80"/><circle cx="574.6" cy="126.8" r="2.80"/><circle cx="577.7" cy="128.5" r="2.80"/><circle cx="581.4" cy="130.7" r="2.80"/><circle cx="586.0" cy="131.6" r="2.80"/><circle cx="603.2" cy="132.7" r="2.80"/><circle cx="630.6" cy="133.5" r="2.80"/><circle cx="642.2" cy="135.4" r="2.80"/><circle cx="664.3" cy="136.5" r="2.80"/><circle cx="647.7" cy="138.1" r="2.80"/><circle cx="667.0" cy="139.3" r="2.80"/><circle cx="629.3" cy="142.8" r="2.80"/><circle cx="615.5" cy="143.2" r="2.80"/><circle cx="613.7" cy="146.7" r="2.80"/><circle cx="627.1" cy="146.7" r="2.80"/><circle cx="634.2" cy="147.3" r="2.80"/><circle cx="636.6" cy="149.8" r="2.80"/><circle cx="639.7" cy="151.6" r="2.80"/><circle cx="651.4" cy="152.5" r="2.80"/><circle cx="634.2" cy="153.7" r="2.80"/><circle cx="620.4" cy="154.1" r="2.80"/><circle cx="621.3" cy="156.5" r="2.80"/><circle cx="623.7" cy="157.1" r="2.80"/><circle cx="620.0" cy="158.7" r="2.80"/><circle cx="622.5" cy="160.8" r="2.80"/><circle cx="635.4" cy="160.4" r="2.80"/><circle cx="640.9" cy="162.0" r="2.80"/><circle cx="626.2" cy="163.3" r="2.80"/><circle cx="623.1" cy="164.1" r="2.80"/><circle cx="635.4" cy="165.4" r="2.80"/><circle cx="626.8" cy="167.3" r="2.80"/><circle cx="628.6" cy="170.0" r="2.80"/><circle cx="593.6" cy="169.4" r="2.80"/><circle cx="599.4" cy="170.6" r="2.80"/><circle cx="589.0" cy="172.7" r="2.80"/><circle cx="579.5" cy="173.5" r="2.80"/><circle cx="573.1" cy="174.7" r="2.80"/><circle cx="573.4" cy="176.8" r="2.80"/><circle cx="578.3" cy="178.6" r="2.80"/><circle cx="572.1" cy="179.2" r="2.80"/><circle cx="575.8" cy="181.7" r="2.80"/><circle cx="567.5" cy="182.6" r="2.80"/><circle cx="551.3" cy="186.6" r="2.80"/><circle cx="573.4" cy="188.2" r="2.80"/><circle cx="557.4" cy="189.3" r="2.80"/><circle cx="576.2" cy="190.9" r="2.80"/><circle cx="580.1" cy="195.2" r="2.80"/><circle cx="565.4" cy="196.7" r="2.80"/><circle cx="561.7" cy="199.1" r="2.80"/><circle cx="577.9" cy="200.1" r="2.80"/><circle cx="581.4" cy="202.2" r="2.80"/><circle cx="573.4" cy="205.3" r="2.80"/><circle cx="584.2" cy="205.3" r="2.80"/><circle cx="586.3" cy="207.1" r="2.80"/><circle cx="577.7" cy="209.0" r="2.80"/><circle cx="575.2" cy="211.2" r="2.80"/><circle cx="571.9" cy="214.5" r="2.80"/><circle cx="584.4" cy="215.5" r="2.80"/><circle cx="578.9" cy="218.6" r="2.80"/><circle cx="566.2" cy="221.6" r="2.80"/><circle cx="579.5" cy="227.8" r="2.80"/><circle cx="582.6" cy="230.5" r="2.80"/><circle cx="572.4" cy="232.3" r="2.80"/><circle cx="559.9" cy="232.4" r="2.80"/><circle cx="557.0" cy="234.2" r="2.80"/><circle cx="552.1" cy="235.7" r="2.80"/><circle cx="544.9" cy="237.3" r="2.80"/><circle cx="553.1" cy="238.2" r="2.80"/><circle cx="562.9" cy="239.2" r="2.80"/><circle cx="553.7" cy="241.0" r="2.80"/><circle cx="578.3" cy="241.9" r="2.80"/><circle cx="592.0" cy="243.4" r="2.80"/><circle cx="608.6" cy="244.6" r="2.80"/><circle cx="610.2" cy="246.4" r="2.80"/><circle cx="576.2" cy="247.1" r="2.80"/><circle cx="567.5" cy="248.3" r="2.80"/><circle cx="557.4" cy="250.5" r="2.80"/><circle cx="578.3" cy="252.3" r="2.80"/><circle cx="612.4" cy="253.3" r="2.80"/><circle cx="636.6" cy="254.5" r="2.80"/><circle cx="629.0" cy="257.2" r="2.80"/><circle cx="640.3" cy="259.4" r="2.80"/><circle cx="637.2" cy="260.9" r="2.80"/><circle cx="642.2" cy="263.3" r="2.80"/><circle cx="631.5" cy="264.3" r="2.80"/><circle cx="627.4" cy="268.5" r="2.80"/><circle cx="617.8" cy="270.3" r="2.80"/><circle cx="627.4" cy="271.3" r="2.80"/><circle cx="635.8" cy="272.9" r="2.80"/><circle cx="643.0" cy="274.4" r="2.80"/><circle cx="637.6" cy="278.5" r="2.80"/><circle cx="647.7" cy="278.7" r="2.80"/><circle cx="658.7" cy="280.3" r="2.80"/><circle cx="644.6" cy="280.5" r="2.80"/><circle cx="650.1" cy="285.5" r="2.80"/><circle cx="643.0" cy="290.0" r="2.80"/><circle cx="653.2" cy="289.8" r="2.80"/><circle cx="656.9" cy="294.1" r="2.80"/><circle cx="660.0" cy="297.1" r="2.80"/><circle cx="660.3" cy="300.2" r="2.80"/><circle cx="658.1" cy="302.4" r="2.80"/><circle cx="652.0" cy="304.5" r="2.80"/><circle cx="656.3" cy="307.3" r="2.80"/><circle cx="660.8" cy="309.2" r="2.80"/><circle cx="646.5" cy="310.9" r="2.80"/><circle cx="635.4" cy="312.2" r="2.80"/><circle cx="613.3" cy="313.5" r="2.80"/><circle cx="641.9" cy="315.3" r="2.80"/><circle cx="624.0" cy="318.4" r="2.80"/><circle cx="648.3" cy="319.6" r="2.80"/><circle cx="630.5" cy="320.5" r="2.80"/><circle cx="617.0" cy="323.5" r="2.80"/><circle cx="595.5" cy="324.5" r="2.80"/><circle cx="633.6" cy="324.8" r="2.80"/><circle cx="599.2" cy="327.2" r="2.80"/><circle cx="625.9" cy="328.5" r="2.80"/><circle cx="606.5" cy="329.1" r="2.80"/><circle cx="641.5" cy="331.5" r="2.80"/><circle cx="612.1" cy="333.0" r="2.80"/><circle cx="629.3" cy="333.4" r="2.80"/><circle cx="605.3" cy="334.2" r="2.80"/><circle cx="634.8" cy="336.2" r="2.80"/><circle cx="642.8" cy="336.4" r="2.80"/><circle cx="625.6" cy="338.5" r="2.80"/><circle cx="613.9" cy="340.7" r="2.80"/><circle cx="631.7" cy="341.4" r="2.80"/><circle cx="597.9" cy="342.0" r="2.80"/><circle cx="610.2" cy="344.4" r="2.80"/><circle cx="623.7" cy="344.4" r="2.80"/><circle cx="640.3" cy="346.9" r="2.80"/><circle cx="631.7" cy="347.5" r="2.80"/><circle cx="622.5" cy="348.7" r="2.80"/><circle cx="607.8" cy="350.2" r="2.80"/><circle cx="621.3" cy="351.8" r="2.80"/><circle cx="645.2" cy="352.7" r="2.80"/><circle cx="615.1" cy="354.3" r="2.80"/><circle cx="642.8" cy="354.9" r="2.80"/><circle cx="626.2" cy="355.5" r="2.80"/><circle cx="606.5" cy="357.3" r="2.80"/><circle cx="640.3" cy="360.4" r="2.80"/><circle cx="629.9" cy="362.2" r="2.80"/><circle cx="636.0" cy="364.4" r="2.80"/><circle cx="629.3" cy="365.3" r="2.80"/><circle cx="639.7" cy="365.3" r="2.80"/><circle cx="644.0" cy="368.4" r="2.80"/><circle cx="647.7" cy="369.6" r="2.80"/><circle cx="642.2" cy="372.1" r="2.80"/><circle cx="653.2" cy="372.4" r="2.80"/><circle cx="638.5" cy="373.9" r="2.80"/><circle cx="633.6" cy="375.7" r="2.80"/><circle cx="640.9" cy="375.7" r="2.80"/><circle cx="618.8" cy="378.6" r="2.80"/><circle cx="625.6" cy="379.7" r="2.80"/><circle cx="642.8" cy="378.8" r="2.80"/><circle cx="660.8" cy="380.4" r="2.80"/><circle cx="642.8" cy="381.9" r="2.80"/><circle cx="645.8" cy="384.1" r="2.80"/><circle cx="629.3" cy="385.6" r="2.80"/><circle cx="617.6" cy="385.6" r="2.80"/><circle cx="601.9" cy="388.6" r="2.80"/><circle cx="617.6" cy="389.2" r="2.80"/><circle cx="593.6" cy="391.9" r="2.80"/><circle cx="637.2" cy="392.3" r="2.80"/><circle cx="648.9" cy="394.1" r="2.80"/><circle cx="618.8" cy="395.6" r="2.80"/><circle cx="641.2" cy="396.0" r="2.80"/><circle cx="650.1" cy="396.2" r="2.80"/><circle cx="678.0" cy="398.7" r="2.80"/><circle cx="664.0" cy="401.5" r="2.80"/><circle cx="634.5" cy="402.1" r="2.80"/><circle cx="631.4" cy="405.2" r="2.80"/><circle cx="645.2" cy="405.6" r="2.80"/><circle cx="659.0" cy="406.4" r="2.80"/><circle cx="654.4" cy="408.9" r="2.80"/><circle cx="640.9" cy="408.9" r="2.80"/><circle cx="650.8" cy="411.3" r="2.80"/><circle cx="638.5" cy="412.6" r="2.80"/><circle cx="623.7" cy="415.3" r="2.80"/><circle cx="636.0" cy="416.5" r="2.80"/><circle cx="625.0" cy="417.5" r="2.80"/><circle cx="621.5" cy="419.9" r="2.80"/><circle cx="630.9" cy="422.4" r="2.80"/><circle cx="635.0" cy="423.6" r="2.80"/><circle cx="627.1" cy="425.5" r="2.80"/><circle cx="605.9" cy="426.7" r="2.80"/><circle cx="609.0" cy="427.3" r="2.80"/><circle cx="583.8" cy="428.8" r="2.80"/><circle cx="599.2" cy="430.4" r="2.80"/><circle cx="587.9" cy="431.4" r="2.80"/><circle cx="583.8" cy="435.5" r="2.80"/><circle cx="590.3" cy="437.7" r="2.80"/><circle cx="562.6" cy="438.4" r="2.80"/><circle cx="559.9" cy="441.1" r="2.80"/><circle cx="597.9" cy="443.5" r="2.80"/><circle cx="606.3" cy="445.7" r="2.80"/><circle cx="599.8" cy="447.0" r="2.80"/><circle cx="549.0" cy="448.4" r="2.80"/><circle cx="600.4" cy="450.3" r="2.80"/><circle cx="592.4" cy="451.3" r="2.80"/><circle cx="572.4" cy="453.3" r="2.80"/><circle cx="591.2" cy="455.2" r="2.80"/><circle cx="583.8" cy="456.8" r="2.80"/><circle cx="585.7" cy="459.2" r="2.80"/><circle cx="588.1" cy="461.7" r="2.80"/><circle cx="576.4" cy="462.9" r="2.80"/><circle cx="558.6" cy="463.9" r="2.80"/><circle cx="584.4" cy="465.4" r="2.80"/><circle cx="570.3" cy="467.2" r="2.80"/><circle cx="588.1" cy="468.1" r="2.80"/><circle cx="543.9" cy="470.9" r="2.80"/><circle cx="572.8" cy="471.9" r="2.80"/><circle cx="580.1" cy="475.5" r="2.80"/><circle cx="577.1" cy="477.1" r="2.80"/><circle cx="575.8" cy="481.4" r="2.80"/><circle cx="570.5" cy="483.2" r="2.80"/><circle cx="583.4" cy="483.6" r="2.80"/><circle cx="583.2" cy="488.1" r="2.80"/><circle cx="523.9" cy="489.3" r="2.80"/><circle cx="569.7" cy="490.0" r="2.80"/><circle cx="584.2" cy="490.6" r="2.80"/><circle cx="576.4" cy="493.0" r="2.80"/><circle cx="550.6" cy="494.0" r="2.80"/><circle cx="560.2" cy="496.5" r="2.80"/><circle cx="580.7" cy="498.2" r="2.80"/><circle cx="586.3" cy="500.1" r="2.80"/><circle cx="543.3" cy="503.2" r="2.80"/><circle cx="569.7" cy="502.9" r="2.80"/><circle cx="566.6" cy="505.6" r="2.80"/><circle cx="574.2" cy="508.7" r="2.80"/><circle cx="582.0" cy="508.4" r="2.80"/><circle cx="590.0" cy="509.6" r="2.80"/><circle cx="595.5" cy="511.4" r="2.80"/><circle cx="586.5" cy="513.9" r="2.80"/><circle cx="572.1" cy="517.2" r="2.80"/></g>
<polyline points="570.0,729.4 582.5,730.6 552.8,732.2 561.0,732.4 593.7,735.5 555.8,744.9 539.6,745.5 566.9,747.2 578.3,749.0 554.0,751.2 557.9,756.5 518.7,758.0 499.3,761.7 501.2,770.0 511.4,772.5 502.1,777.2 515.3,781.3 530.3,789.6 520.2,791.8 530.4,795.5 546.9,796.9 538.3,803.5 513.4,822.9 499.7,825.3 482.1,825.9 540.1,832.3 522.0,836.3 534.6,838.2 511.0,840.1 521.8,842.1 531.9,842.1 534.3,846.2 498.3,848.3 512.0,849.2 521.8,850.1 531.5,850.7 549.9,855.0 533.3,856.3 543.8,860.5 543.5,865.1 530.9,869.5 515.0,873.4 558.3,876.9 519.6,879.2 530.6,879.6 542.3,880.6 510.4,883.9 545.4,885.5 535.6,886.3 528.2,887.6 524.5,889.4 533.7,890.6 543.2,891.5 581.6,893.9 538.0,894.9 522.3,895.8 533.7,898.0 563.8,898.9 546.0,900.5 555.2,900.7 541.1,902.7 555.8,905.4 550.5,906.8 543.2,908.8 585.9,909.3 548.5,952.7 558.3,955.7 552.8,959.7 552.1,963.7 557.4,966.2 549.9,968.0 567.1,968.9 573.6,971.7 559.1,973.8 544.5,975.8 553.0,981.3 544.2,983.4 555.2,987.4 560.4,987.4 550.9,989.5 565.0,992.3 574.9,991.6 583.2,993.2 552.5,994.4 560.1,993.8 562.9,998.1 555.6,999.0 575.5,1000.5 586.5,1000.5 567.1,1004.2 579.4,1005.1 566.3,1007.9 574.9,1007.9 582.6,1009.1 552.8,1011.2 558.3,1012.0 593.3,1013.4 588.4,1017.7 598.6,1018.1 585.1,1020.4 592.1,1022.6 581.0,1025.1 597.8,1027.8 584.7,1030.3 609.9,1030.9 596.4,1033.7 589.2,1035.8 616.6,1037.8 575.5,1041.3 589.0,1041.9 601.9,1044.5 615.7,1045.7 605.0,1047.6 587.8,1049.7 627.7,1051.5 595.7,1052.1 551.5,1054.8 611.5,1056.2 617.6,1057.0 588.4,1058.9 544.5,1059.7 578.9,1061.3 579.2,1065.9 566.9,1065.9 527.0,1066.6 568.7,1069.3 599.4,1071.2 569.3,1073.0 559.9,1073.3 589.6,1075.2 594.3,1076.3 582.9,1078.5 558.3,1078.5 497.8,1079.5 489.2,1080.6 545.4,1080.6 517.7,1081.9 511.4,1082.5 561.4,1082.2 532.5,1083.5 504.0,1085.3 568.7,1084.7 573.3,1086.3 527.6,1088.0 568.1,1089.6 557.7,1090.5 571.2,1092.4 547.2,1092.9 535.2,1094.3 514.1,1096.6 559.3,1097.6 539.9,1098.8 542.9,1100.0 536.4,1101.5 529.4,1102.5 521.7,1104.1 549.1,1105.8 560.7,1107.0 545.0,1108.9 564.4,1109.5 537.6,1112.0 551.9,1115.4 561.4,1116.4 564.4,1119.1 569.1,1119.4 546.0,1121.2 501.2,1122.1 559.3,1123.4 526.3,1126.4 542.3,1127.3 573.9,1127.9 589.6,1127.7 580.6,1129.5 555.6,1131.0 562.0,1134.7 546.4,1134.7 506.9,1136.5 528.6,1136.9 541.1,1138.1 557.1,1140.3 574.6,1140.3 580.4,1139.3" fill="none" stroke="#0a0a0a" stroke-width="0.95" stroke-linejoin="round"/>
<g fill="#0a0a0a"><circle cx="570.0" cy="729.4" r="2.80"/><circle cx="582.5" cy="730.6" r="2.80"/><circle cx="552.8" cy="732.2" r="2.80"/><circle cx="561.0" cy="732.4" r="2.80"/><circle cx="593.7" cy="735.5" r="2.80"/><circle cx="555.8" cy="744.9" r="2.80"/><circle cx="539.6" cy="745.5" r="2.80"/><circle cx="566.9" cy="747.2" r="2.80"/><circle cx="578.3" cy="749.0" r="2.80"/><circle cx="554.0" cy="751.2" r="2.80"/><circle cx="557.9" cy="756.5" r="2.80"/><circle cx="518.7" cy="758.0" r="2.80"/><circle cx="499.3" cy="761.7" r="2.80"/><circle cx="501.2" cy="770.0" r="2.80"/><circle cx="511.4" cy="772.5" r="2.80"/><circle cx="502.1" cy="777.2" r="2.80"/><circle cx="515.3" cy="781.3" r="2.80"/><circle cx="530.3" cy="789.6" r="2.80"/><circle cx="520.2" cy="791.8" r="2.80"/><circle cx="530.4" cy="795.5" r="2.80"/><circle cx="546.9" cy="796.9" r="2.80"/><circle cx="538.3" cy="803.5" r="2.80"/><circle cx="513.4" cy="822.9" r="2.80"/><circle cx="499.7" cy="825.3" r="2.80"/><circle cx="482.1" cy="825.9" r="2.80"/><circle cx="540.1" cy="832.3" r="2.80"/><circle cx="522.0" cy="836.3" r="2.80"/><circle cx="534.6" cy="838.2" r="2.80"/><circle cx="511.0" cy="840.1" r="2.80"/><circle cx="521.8" cy="842.1" r="2.80"/><circle cx="531.9" cy="842.1" r="2.80"/><circle cx="534.3" cy="846.2" r="2.80"/><circle cx="498.3" cy="848.3" r="2.80"/><circle cx="512.0" cy="849.2" r="2.80"/><circle cx="521.8" cy="850.1" r="2.80"/><circle cx="531.5" cy="850.7" r="2.80"/><circle cx="549.9" cy="855.0" r="2.80"/><circle cx="533.3" cy="856.3" r="2.80"/><circle cx="543.8" cy="860.5" r="2.80"/><circle cx="543.5" cy="865.1" r="2.80"/><circle cx="530.9" cy="869.5" r="2.80"/><circle cx="515.0" cy="873.4" r="2.80"/><circle cx="558.3" cy="876.9" r="2.80"/><circle cx="519.6" cy="879.2" r="2.80"/><circle cx="530.6" cy="879.6" r="2.80"/><circle cx="542.3" cy="880.6" r="2.80"/><circle cx="510.4" cy="883.9" r="2.80"/><circle cx="545.4" cy="885.5" r="2.80"/><circle cx="535.6" cy="886.3" r="2.80"/><circle cx="528.2" cy="887.6" r="2.80"/><circle cx="524.5" cy="889.4" r="2.80"/><circle cx="533.7" cy="890.6" r="2.80"/><circle cx="543.2" cy="891.5" r="2.80"/><circle cx="581.6" cy="893.9" r="2.80"/><circle cx="538.0" cy="894.9" r="2.80"/><circle cx="522.3" cy="895.8" r="2.80"/><circle cx="533.7" cy="898.0" r="2.80"/><circle cx="563.8" cy="898.9" r="2.80"/><circle cx="546.0" cy="900.5" r="2.80"/><circle cx="555.2" cy="900.7" r="2.80"/><circle cx="541.1" cy="902.7" r="2.80"/><circle cx="555.8" cy="905.4" r="2.80"/><circle cx="550.5" cy="906.8" r="2.80"/><circle cx="543.2" cy="908.8" r="2.80"/><circle cx="585.9" cy="909.3" r="2.80"/><circle cx="548.5" cy="952.7" r="2.80"/><circle cx="558.3" cy="955.7" r="2.80"/><circle cx="552.8" cy="959.7" r="2.80"/><circle cx="552.1" cy="963.7" r="2.80"/><circle cx="557.4" cy="966.2" r="2.80"/><circle cx="549.9" cy="968.0" r="2.80"/><circle cx="567.1" cy="968.9" r="2.80"/><circle cx="573.6" cy="971.7" r="2.80"/><circle cx="559.1" cy="973.8" r="2.80"/><circle cx="544.5" cy="975.8" r="2.80"/><circle cx="553.0" cy="981.3" r="2.80"/><circle cx="544.2" cy="983.4" r="2.80"/><circle cx="555.2" cy="987.4" r="2.80"/><circle cx="560.4" cy="987.4" r="2.80"/><circle cx="550.9" cy="989.5" r="2.80"/><circle cx="565.0" cy="992.3" r="2.80"/><circle cx="574.9" cy="991.6" r="2.80"/><circle cx="583.2" cy="993.2" r="2.80"/><circle cx="552.5" cy="994.4" r="2.80"/><circle cx="560.1" cy="993.8" r="2.80"/><circle cx="562.9" cy="998.1" r="2.80"/><circle cx="555.6" cy="999.0" r="2.80"/><circle cx="575.5" cy="1000.5" r="2.80"/><circle cx="586.5" cy="1000.5" r="2.80"/><circle cx="567.1" cy="1004.2" r="2.80"/><circle cx="579.4" cy="1005.1" r="2.80"/><circle cx="566.3" cy="1007.9" r="2.80"/><circle cx="574.9" cy="1007.9" r="2.80"/><circle cx="582.6" cy="1009.1" r="2.80"/><circle cx="552.8" cy="1011.2" r="2.80"/><circle cx="558.3" cy="1012.0" r="2.80"/><circle cx="593.3" cy="1013.4" r="2.80"/><circle cx="588.4" cy="1017.7" r="2.80"/><circle cx="598.6" cy="1018.1" r="2.80"/><circle cx="585.1" cy="1020.4" r="2.80"/><circle cx="592.1" cy="1022.6" r="2.80"/><circle cx="581.0" cy="1025.1" r="2.80"/><circle cx="597.8" cy="1027.8" r="2.80"/><circle cx="584.7" cy="1030.3" r="2.80"/><circle cx="609.9" cy="1030.9" r="2.80"/><circle cx="596.4" cy="1033.7" r="2.80"/><circle cx="589.2" cy="1035.8" r="2.80"/><circle cx="616.6" cy="1037.8" r="2.80"/><circle cx="575.5" cy="1041.3" r="2.80"/><circle cx="589.0" cy="1041.9" r="2.80"/><circle cx="601.9" cy="1044.5" r="2.80"/><circle cx="615.7" cy="1045.7" r="2.80"/><circle cx="605.0" cy="1047.6" r="2.80"/><circle cx="587.8" cy="1049.7" r="2.80"/><circle cx="627.7" cy="1051.5" r="2.80"/><circle cx="595.7" cy="1052.1" r="2.80"/><circle cx="551.5" cy="1054.8" r="2.80"/><circle cx="611.5" cy="1056.2" r="2.80"/><circle cx="617.6" cy="1057.0" r="2.80"/><circle cx="588.4" cy="1058.9" r="2.80"/><circle cx="544.5" cy="1059.7" r="2.80"/><circle cx="578.9" cy="1061.3" r="2.80"/><circle cx="579.2" cy="1065.9" r="2.80"/><circle cx="566.9" cy="1065.9" r="2.80"/><circle cx="527.0" cy="1066.6" r="2.80"/><circle cx="568.7" cy="1069.3" r="2.80"/><circle cx="599.4" cy="1071.2" r="2.80"/><circle cx="569.3" cy="1073.0" r="2.80"/><circle cx="559.9" cy="1073.3" r="2.80"/><circle cx="589.6" cy="1075.2" r="2.80"/><circle cx="594.3" cy="1076.3" r="2.80"/><circle cx="582.9" cy="1078.5" r="2.80"/><circle cx="558.3" cy="1078.5" r="2.80"/><circle cx="497.8" cy="1079.5" r="2.80"/><circle cx="489.2" cy="1080.6" r="2.80"/><circle cx="545.4" cy="1080.6" r="2.80"/><circle cx="517.7" cy="1081.9" r="2.80"/><circle cx="511.4" cy="1082.5" r="2.80"/><circle cx="561.4" cy="1082.2" r="2.80"/><circle cx="532.5" cy="1083.5" r="2.80"/><circle cx="504.0" cy="1085.3" r="2.80"/><circle cx="568.7" cy="1084.7" r="2.80"/><circle cx="573.3" cy="1086.3" r="2.80"/><circle cx="527.6" cy="1088.0" r="2.80"/><circle cx="568.1" cy="1089.6" r="2.80"/><circle cx="557.7" cy="1090.5" r="2.80"/><circle cx="571.2" cy="1092.4" r="2.80"/><circle cx="547.2" cy="1092.9" r="2.80"/><circle cx="535.2" cy="1094.3" r="2.80"/><circle cx="514.1" cy="1096.6" r="2.80"/><circle cx="559.3" cy="1097.6" r="2.80"/><circle cx="539.9" cy="1098.8" r="2.80"/><circle cx="542.9" cy="1100.0" r="2.80"/><circle cx="536.4" cy="1101.5" r="2.80"/><circle cx="529.4" cy="1102.5" r="2.80"/><circle cx="521.7" cy="1104.1" r="2.80"/><circle cx="549.1" cy="1105.8" r="2.80"/><circle cx="560.7" cy="1107.0" r="2.80"/><circle cx="545.0" cy="1108.9" r="2.80"/><circle cx="564.4" cy="1109.5" r="2.80"/><circle cx="537.6" cy="1112.0" r="2.80"/><circle cx="551.9" cy="1115.4" r="2.80"/><circle cx="561.4" cy="1116.4" r="2.80"/><circle cx="564.4" cy="1119.1" r="2.80"/><circle cx="569.1" cy="1119.4" r="2.80"/><circle cx="546.0" cy="1121.2" r="2.80"/><circle cx="501.2" cy="1122.1" r="2.80"/><circle cx="559.3" cy="1123.4" r="2.80"/><circle cx="526.3" cy="1126.4" r="2.80"/><circle cx="542.3" cy="1127.3" r="2.80"/><circle cx="573.9" cy="1127.9" r="2.80"/><circle cx="589.6" cy="1127.7" r="2.80"/><circle cx="580.6" cy="1129.5" r="2.80"/><circle cx="555.6" cy="1131.0" r="2.80"/><circle cx="562.0" cy="1134.7" r="2.80"/><circle cx="546.4" cy="1134.7" r="2.80"/><circle cx="506.9" cy="1136.5" r="2.80"/><circle cx="528.6" cy="1136.9" r="2.80"/><circle cx="541.1" cy="1138.1" r="2.80"/><circle cx="557.1" cy="1140.3" r="2.80"/><circle cx="574.6" cy="1140.3" r="2.80"/><circle cx="580.4" cy="1139.3" r="2.80"/></g>
<polyline points="1002.2,118.5 978.6,120.7 1016.0,123.1 1036.0,124.7 1055.1,127.7 1037.9,129.0 1020.4,132.0 1028.3,134.7 1005.3,137.2 1011.8,140.0 1007.4,141.9 972.5,144.6 997.9,144.9 987.7,147.4 1002.2,147.4 1006.2,149.6 1011.4,154.4 996.3,158.4 970.0,160.5 954.9,162.1 958.3,165.0 935.9,165.8 907.4,167.7 935.9,167.7 970.5,170.7 981.0,173.4 991.8,175.4 998.6,177.7 1016.6,180.2 1017.2,185.2 1013.3,188.5 1004.4,192.5 997.9,196.5 985.9,200.0 1011.1,203.0 988.4,203.5 998.8,224.8 1008.1,226.9 1018.6,229.3 1014.3,231.3 1010.8,235.0 1030.5,237.1 1033.3,241.6 1051.4,244.8 1041.3,249.7 1055.3,251.8 1042.2,254.6 1041.3,261.8 1034.8,262.4 1021.6,264.7 1013.0,276.6 1017.3,280.3 1012.1,282.5 1022.9,287.6 1025.3,291.3 1019.7,292.5 1019.4,298.7 1015.7,300.9 982.6,315.9 972.4,321.2 985.3,323.4 994.6,324.9 1002.9,327.6 1041.3,330.0 1018.5,333.5 1027.2,335.5 1035.0,338.0 1040.6,340.5 1034.8,344.3 1046.1,347.2 1035.4,349.4 1019.4,351.6 1009.0,353.7 995.2,356.5 976.8,359.3 969.7,362.3 950.0,363.8 961.9,365.6 976.1,366.9 969.9,368.8 961.3,370.9 910.3,372.8 956.8,375.5 932.6,377.7 969.9,379.8 974.8,382.6 983.6,384.7 1016.0,386.5 1011.4,389.5 1004.7,392.6 994.9,396.7 1010.5,399.7 1007.8,401.8 1025.0,405.3 994.9,406.5 1012.3,409.2 1022.9,411.4 1011.4,413.9 988.1,419.2 969.3,421.9 1030.1,421.5 990.6,424.3 1043.8,424.6 1057.9,425.5 983.4,427.1 963.8,429.5 986.5,431.7 1058.7,431.4 1008.4,434.4 1043.0,434.1 1051.1,434.8 1030.5,436.4 1066.1,436.4 1039.5,446.7 1027.7,451.7 1042.4,452.2 1050.5,455.6 1061.0,458.7 1025.8,461.2 1034.8,462.4 1041.3,464.9 1044.4,468.5 1033.6,470.1 1022.3,472.8 1029.6,476.5 1021.6,479.0 1046.5,480.2 1065.7,482.3 1037.9,485.4 1056.5,488.4 1064.3,490.0 1059.1,493.1 1050.5,496.2 1040.9,498.3 1048.9,503.2 1025.6,505.4 1049.2,508.5 1024.3,511.8 1012.7,517.9 998.6,524.8 1005.1,527.8 996.3,531.8 1003.2,534.2 1018.5,537.0 982.3,542.0 1002.6,544.0 993.4,549.8 974.0,553.0 983.4,555.1 989.0,564.1 979.3,567.6 992.8,572.9 982.3,576.2 991.2,577.8 984.8,583.1 974.8,584.6 979.5,588.6 954.3,590.1 944.5,592.2 982.0,597.1 990.2,599.6 971.2,602.8 991.5,606.1 975.0,606.9 991.4,610.1 987.7,613.1 1000.4,615.7 989.1,618.1 995.1,621.2 1015.1,624.1 1003.2,625.7 1007.8,626.0 1005.7,630.7 1011.4,633.5 992.0,638.0 1006.8,640.1 1002.2,643.6 974.3,652.8 985.4,656.4 970.0,658.7 954.1,664.1 1005.1,668.1 983.6,669.5 1015.1,671.8 984.1,678.3 995.5,681.8 941.8,683.1 978.3,686.5 991.4,687.7 976.7,689.9 950.6,692.9 960.5,697.2 972.1,699.8 976.1,702.5 974.0,714.1 985.9,715.1 991.8,719.9 977.1,722.5 999.8,728.0 961.9,731.3 987.7,740.2 975.2,767.8 988.4,776.4 973.7,780.7 976.7,783.3 979.9,812.1 1000.8,813.3 969.3,823.1 939.0,824.3 955.8,826.5 920.5,829.2 942.3,834.1 939.3,837.3 949.2,843.3 939.8,850.5 961.7,854.8 968.5,857.5 960.5,864.3 906.8,887.3 919.7,889.5 950.9,891.9 946.7,899.2 950.4,903.3 922.4,913.4 930.0,930.1 940.8,931.5 961.7,943.2 972.1,945.7 975.2,950.5 966.0,951.1 955.6,956.7 968.5,961.0 974.0,964.7 953.7,966.3 941.4,969.8 920.3,971.4 922.4,974.9 934.7,976.0 938.4,978.4 954.3,987.1 947.9,989.0 975.6,997.0 967.8,999.7 958.9,1006.8 965.4,1013.6 975.6,1016.3 1052.2,1019.6 959.9,1022.4 980.7,1024.2 979.5,1028.5 983.6,1029.2 982.3,1031.6 989.3,1034.3 982.3,1037.1 987.2,1040.0 992.7,1042.7 976.4,1044.1 968.7,1047.2 981.4,1049.7 977.9,1054.3 960.5,1055.9 955.3,1060.5 970.3,1061.5 943.3,1066.6 954.3,1067.2 939.6,1071.8 918.1,1074.0 952.1,1076.2 935.5,1084.9 958.0,1086.7 951.6,1089.2 938.4,1091.9 916.5,1095.2 952.7,1098.3 908.9,1106.6 934.7,1109.1 1022.8,1111.2 1013.9,1113.6 1009.4,1116.1 991.4,1118.7 980.7,1121.4 994.5,1124.1 948.6,1125.3 988.1,1127.8 950.6,1131.2 955.6,1134.5 981.4,1135.1 971.8,1141.3" fill="none" stroke="#0a0a0a" stroke-width="0.95" stroke-linejoin="round"/>
<g fill="#0a0a0a"><circle cx="1002.2" cy="118.5" r="2.75"/><circle cx="978.6" cy="120.7" r="2.75"/><circle cx="1016.0" cy="123.1" r="2.75"/><circle cx="1036.0" cy="124.7" r="2.75"/><circle cx="1055.1" cy="127.7" r="2.75"/><circle cx="1037.9" cy="129.0" r="2.75"/><circle cx="1020.4" cy="132.0" r="2.75"/><circle cx="1028.3" cy="134.7" r="2.75"/><circle cx="1005.3" cy="137.2" r="2.75"/><circle cx="1011.8" cy="140.0" r="2.75"/><circle cx="1007.4" cy="141.9" r="2.75"/><circle cx="972.5" cy="144.6" r="2.75"/><circle cx="997.9" cy="144.9" r="2.75"/><circle cx="987.7" cy="147.4" r="2.75"/><circle cx="1002.2" cy="147.4" r="2.75"/><circle cx="1006.2" cy="149.6" r="2.75"/><circle cx="1011.4" cy="154.4" r="2.75"/><circle cx="996.3" cy="158.4" r="2.75"/><circle cx="970.0" cy="160.5" r="2.75"/><circle cx="954.9" cy="162.1" r="2.75"/><circle cx="958.3" cy="165.0" r="2.75"/><circle cx="935.9" cy="165.8" r="2.75"/><circle cx="907.4" cy="167.7" r="2.75"/><circle cx="935.9" cy="167.7" r="2.75"/><circle cx="970.5" cy="170.7" r="2.75"/><circle cx="981.0" cy="173.4" r="2.75"/><circle cx="991.8" cy="175.4" r="2.75"/><circle cx="998.6" cy="177.7" r="2.75"/><circle cx="1016.6" cy="180.2" r="2.75"/><circle cx="1017.2" cy="185.2" r="2.75"/><circle cx="1013.3" cy="188.5" r="2.75"/><circle cx="1004.4" cy="192.5" r="2.75"/><circle cx="997.9" cy="196.5" r="2.75"/><circle cx="985.9" cy="200.0" r="2.75"/><circle cx="1011.1" cy="203.0" r="2.75"/><circle cx="988.4" cy="203.5" r="2.75"/><circle cx="998.8" cy="224.8" r="2.75"/><circle cx="1008.1" cy="226.9" r="2.75"/><circle cx="1018.6" cy="229.3" r="2.75"/><circle cx="1014.3" cy="231.3" r="2.75"/><circle cx="1010.8" cy="235.0" r="2.75"/><circle cx="1030.5" cy="237.1" r="2.75"/><circle cx="1033.3" cy="241.6" r="2.75"/><circle cx="1051.4" cy="244.8" r="2.75"/><circle cx="1041.3" cy="249.7" r="2.75"/><circle cx="1055.3" cy="251.8" r="2.75"/><circle cx="1042.2" cy="254.6" r="2.75"/><circle cx="1041.3" cy="261.8" r="2.75"/><circle cx="1034.8" cy="262.4" r="2.75"/><circle cx="1021.6" cy="264.7" r="2.75"/><circle cx="1013.0" cy="276.6" r="2.75"/><circle cx="1017.3" cy="280.3" r="2.75"/><circle cx="1012.1" cy="282.5" r="2.75"/><circle cx="1022.9" cy="287.6" r="2.75"/><circle cx="1025.3" cy="291.3" r="2.75"/><circle cx="1019.7" cy="292.5" r="2.75"/><circle cx="1019.4" cy="298.7" r="2.75"/><circle cx="1015.7" cy="300.9" r="2.75"/><circle cx="982.6" cy="315.9" r="2.75"/><circle cx="972.4" cy="321.2" r="2.75"/><circle cx="985.3" cy="323.4" r="2.75"/><circle cx="994.6" cy="324.9" r="2.75"/><circle cx="1002.9" cy="327.6" r="2.75"/><circle cx="1041.3" cy="330.0" r="2.75"/><circle cx="1018.5" cy="333.5" r="2.75"/><circle cx="1027.2" cy="335.5" r="2.75"/><circle cx="1035.0" cy="338.0" r="2.75"/><circle cx="1040.6" cy="340.5" r="2.75"/><circle cx="1034.8" cy="344.3" r="2.75"/><circle cx="1046.1" cy="347.2" r="2.75"/><circle cx="1035.4" cy="349.4" r="2.75"/><circle cx="1019.4" cy="351.6" r="2.75"/><circle cx="1009.0" cy="353.7" r="2.75"/><circle cx="995.2" cy="356.5" r="2.75"/><circle cx="976.8" cy="359.3" r="2.75"/><circle cx="969.7" cy="362.3" r="2.75"/><circle cx="950.0" cy="363.8" r="2.75"/><circle cx="961.9" cy="365.6" r="2.75"/><circle cx="976.1" cy="366.9" r="2.75"/><circle cx="969.9" cy="368.8" r="2.75"/><circle cx="961.3" cy="370.9" r="2.75"/><circle cx="910.3" cy="372.8" r="2.75"/><circle cx="956.8" cy="375.5" r="2.75"/><circle cx="932.6" cy="377.7" r="2.75"/><circle cx="969.9" cy="379.8" r="2.75"/><circle cx="974.8" cy="382.6" r="2.75"/><circle cx="983.6" cy="384.7" r="2.75"/><circle cx="1016.0" cy="386.5" r="2.75"/><circle cx="1011.4" cy="389.5" r="2.75"/><circle cx="1004.7" cy="392.6" r="2.75"/><circle cx="994.9" cy="396.7" r="2.75"/><circle cx="1010.5" cy="399.7" r="2.75"/><circle cx="1007.8" cy="401.8" r="2.75"/><circle cx="1025.0" cy="405.3" r="2.75"/><circle cx="994.9" cy="406.5" r="2.75"/><circle cx="1012.3" cy="409.2" r="2.75"/><circle cx="1022.9" cy="411.4" r="2.75"/><circle cx="1011.4" cy="413.9" r="2.75"/><circle cx="988.1" cy="419.2" r="2.75"/><circle cx="969.3" cy="421.9" r="2.75"/><circle cx="1030.1" cy="421.5" r="2.75"/><circle cx="990.6" cy="424.3" r="2.75"/><circle cx="1043.8" cy="424.6" r="2.75"/><circle cx="1057.9" cy="425.5" r="2.75"/><circle cx="983.4" cy="427.1" r="2.75"/><circle cx="963.8" cy="429.5" r="2.75"/><circle cx="986.5" cy="431.7" r="2.75"/><circle cx="1058.7" cy="431.4" r="2.75"/><circle cx="1008.4" cy="434.4" r="2.75"/><circle cx="1043.0" cy="434.1" r="2.75"/><circle cx="1051.1" cy="434.8" r="2.75"/><circle cx="1030.5" cy="436.4" r="2.75"/><circle cx="1066.1" cy="436.4" r="2.75"/><circle cx="1039.5" cy="446.7" r="2.75"/><circle cx="1027.7" cy="451.7" r="2.75"/><circle cx="1042.4" cy="452.2" r="2.75"/><circle cx="1050.5" cy="455.6" r="2.75"/><circle cx="1061.0" cy="458.7" r="2.75"/><circle cx="1025.8" cy="461.2" r="2.75"/><circle cx="1034.8" cy="462.4" r="2.75"/><circle cx="1041.3" cy="464.9" r="2.75"/><circle cx="1044.4" cy="468.5" r="2.75"/><circle cx="1033.6" cy="470.1" r="2.75"/><circle cx="1022.3" cy="472.8" r="2.75"/><circle cx="1029.6" cy="476.5" r="2.75"/><circle cx="1021.6" cy="479.0" r="2.75"/><circle cx="1046.5" cy="480.2" r="2.75"/><circle cx="1065.7" cy="482.3" r="2.75"/><circle cx="1037.9" cy="485.4" r="2.75"/><circle cx="1056.5" cy="488.4" r="2.75"/><circle cx="1064.3" cy="490.0" r="2.75"/><circle cx="1059.1" cy="493.1" r="2.75"/><circle cx="1050.5" cy="496.2" r="2.75"/><circle cx="1040.9" cy="498.3" r="2.75"/><circle cx="1048.9" cy="503.2" r="2.75"/><circle cx="1025.6" cy="505.4" r="2.75"/><circle cx="1049.2" cy="508.5" r="2.75"/><circle cx="1024.3" cy="511.8" r="2.75"/><circle cx="1012.7" cy="517.9" r="2.75"/><circle cx="998.6" cy="524.8" r="2.75"/><circle cx="1005.1" cy="527.8" r="2.75"/><circle cx="996.3" cy="531.8" r="2.75"/><circle cx="1003.2" cy="534.2" r="2.75"/><circle cx="1018.5" cy="537.0" r="2.75"/><circle cx="982.3" cy="542.0" r="2.75"/><circle cx="1002.6" cy="544.0" r="2.75"/><circle cx="993.4" cy="549.8" r="2.75"/><circle cx="974.0" cy="553.0" r="2.75"/><circle cx="983.4" cy="555.1" r="2.75"/><circle cx="989.0" cy="564.1" r="2.75"/><circle cx="979.3" cy="567.6" r="2.75"/><circle cx="992.8" cy="572.9" r="2.75"/><circle cx="982.3" cy="576.2" r="2.75"/><circle cx="991.2" cy="577.8" r="2.75"/><circle cx="984.8" cy="583.1" r="2.75"/><circle cx="974.8" cy="584.6" r="2.75"/><circle cx="979.5" cy="588.6" r="2.75"/><circle cx="954.3" cy="590.1" r="2.75"/><circle cx="944.5" cy="592.2" r="2.75"/><circle cx="982.0" cy="597.1" r="2.75"/><circle cx="990.2" cy="599.6" r="2.75"/><circle cx="971.2" cy="602.8" r="2.75"/><circle cx="991.5" cy="606.1" r="2.75"/><circle cx="975.0" cy="606.9" r="2.75"/><circle cx="991.4" cy="610.1" r="2.75"/><circle cx="987.7" cy="613.1" r="2.75"/><circle cx="1000.4" cy="615.7" r="2.75"/><circle cx="989.1" cy="618.1" r="2.75"/><circle cx="995.1" cy="621.2" r="2.75"/><circle cx="1015.1" cy="624.1" r="2.75"/><circle cx="1003.2" cy="625.7" r="2.75"/><circle cx="1007.8" cy="626.0" r="2.75"/><circle cx="1005.7" cy="630.7" r="2.75"/><circle cx="1011.4" cy="633.5" r="2.75"/><circle cx="992.0" cy="638.0" r="2.75"/><circle cx="1006.8" cy="640.1" r="2.75"/><circle cx="1002.2" cy="643.6" r="2.75"/><circle cx="974.3" cy="652.8" r="2.75"/><circle cx="985.4" cy="656.4" r="2.75"/><circle cx="970.0" cy="658.7" r="2.75"/><circle cx="954.1" cy="664.1" r="2.75"/><circle cx="1005.1" cy="668.1" r="2.75"/><circle cx="983.6" cy="669.5" r="2.75"/><circle cx="1015.1" cy="671.8" r="2.75"/><circle cx="984.1" cy="678.3" r="2.75"/><circle cx="995.5" cy="681.8" r="2.75"/><circle cx="941.8" cy="683.1" r="2.75"/><circle cx="978.3" cy="686.5" r="2.75"/><circle cx="991.4" cy="687.7" r="2.75"/><circle cx="976.7" cy="689.9" r="2.75"/><circle cx="950.6" cy="692.9" r="2.75"/><circle cx="960.5" cy="697.2" r="2.75"/><circle cx="972.1" cy="699.8" r="2.75"/><circle cx="976.1" cy="702.5" r="2.75"/><circle cx="974.0" cy="714.1" r="2.75"/><circle cx="985.9" cy="715.1" r="2.75"/><circle cx="991.8" cy="719.9" r="2.75"/><circle cx="977.1" cy="722.5" r="2.75"/><circle cx="999.8" cy="728.0" r="2.75"/><circle cx="961.9" cy="731.3" r="2.75"/><circle cx="987.7" cy="740.2" r="2.75"/><circle cx="975.2" cy="767.8" r="2.75"/><circle cx="988.4" cy="776.4" r="2.75"/><circle cx="973.7" cy="780.7" r="2.75"/><circle cx="976.7" cy="783.3" r="2.75"/><circle cx="979.9" cy="812.1" r="2.75"/><circle cx="1000.8" cy="813.3" r="2.75"/><circle cx="969.3" cy="823.1" r="2.75"/><circle cx="939.0" cy="824.3" r="2.75"/><circle cx="955.8" cy="826.5" r="2.75"/><circle cx="920.5" cy="829.2" r="2.75"/><circle cx="942.3" cy="834.1" r="2.75"/><circle cx="939.3" cy="837.3" r="2.75"/><circle cx="949.2" cy="843.3" r="2.75"/><circle cx="939.8" cy="850.5" r="2.75"/><circle cx="961.7" cy="854.8" r="2.75"/><circle cx="968.5" cy="857.5" r="2.75"/><circle cx="960.5" cy="864.3" r="2.75"/><circle cx="906.8" cy="887.3" r="2.75"/><circle cx="919.7" cy="889.5" r="2.75"/><circle cx="950.9" cy="891.9" r="2.75"/><circle cx="946.7" cy="899.2" r="2.75"/><circle cx="950.4" cy="903.3" r="2.75"/><circle cx="922.4" cy="913.4" r="2.75"/><circle cx="930.0" cy="930.1" r="2.75"/><circle cx="940.8" cy="931.5" r="2.75"/><circle cx="961.7" cy="943.2" r="2.75"/><circle cx="972.1" cy="945.7" r="2.75"/><circle cx="975.2" cy="950.5" r="2.75"/><circle cx="966.0" cy="951.1" r="2.75"/><circle cx="955.6" cy="956.7" r="2.75"/><circle cx="968.5" cy="961.0" r="2.75"/><circle cx="974.0" cy="964.7" r="2.75"/><circle cx="953.7" cy="966.3" r="2.75"/><circle cx="941.4" cy="969.8" r="2.75"/><circle cx="920.3" cy="971.4" r="2.75"/><circle cx="922.4" cy="974.9" r="2.75"/><circle cx="934.7" cy="976.0" r="2.75"/><circle cx="938.4" cy="978.4" r="2.75"/><circle cx="954.3" cy="987.1" r="2.75"/><circle cx="947.9" cy="989.0" r="2.75"/><circle cx="975.6" cy="997.0" r="2.75"/><circle cx="967.8" cy="999.7" r="2.75"/><circle cx="958.9" cy="1006.8" r="2.75"/><circle cx="965.4" cy="1013.6" r="2.75"/><circle cx="975.6" cy="1016.3" r="2.75"/><circle cx="1052.2" cy="1019.6" r="2.75"/><circle cx="959.9" cy="1022.4" r="2.75"/><circle cx="980.7" cy="1024.2" r="2.75"/><circle cx="979.5" cy="1028.5" r="2.75"/><circle cx="983.6" cy="1029.2" r="2.75"/><circle cx="982.3" cy="1031.6" r="2.75"/><circle cx="989.3" cy="1034.3" r="2.75"/><circle cx="982.3" cy="1037.1" r="2.75"/><circle cx="987.2" cy="1040.0" r="2.75"/><circle cx="992.7" cy="1042.7" r="2.75"/><circle cx="976.4" cy="1044.1" r="2.75"/><circle cx="968.7" cy="1047.2" r="2.75"/><circle cx="981.4" cy="1049.7" r="2.75"/><circle cx="977.9" cy="1054.3" r="2.75"/><circle cx="960.5" cy="1055.9" r="2.75"/><circle cx="955.3" cy="1060.5" r="2.75"/><circle cx="970.3" cy="1061.5" r="2.75"/><circle cx="943.3" cy="1066.6" r="2.75"/><circle cx="954.3" cy="1067.2" r="2.75"/><circle cx="939.6" cy="1071.8" r="2.75"/><circle cx="918.1" cy="1074.0" r="2.75"/><circle cx="952.1" cy="1076.2" r="2.75"/><circle cx="935.5" cy="1084.9" r="2.75"/><circle cx="958.0" cy="1086.7" r="2.75"/><circle cx="951.6" cy="1089.2" r="2.75"/><circle cx="938.4" cy="1091.9" r="2.75"/><circle cx="916.5" cy="1095.2" r="2.75"/><circle cx="952.7" cy="1098.3" r="2.75"/><circle cx="908.9" cy="1106.6" r="2.75"/><circle cx="934.7" cy="1109.1" r="2.75"/><circle cx="1022.8" cy="1111.2" r="2.75"/><circle cx="1013.9" cy="1113.6" r="2.75"/><circle cx="1009.4" cy="1116.1" r="2.75"/><circle cx="991.4" cy="1118.7" r="2.75"/><circle cx="980.7" cy="1121.4" r="2.75"/><circle cx="994.5" cy="1124.1" r="2.75"/><circle cx="948.6" cy="1125.3" r="2.75"/><circle cx="988.1" cy="1127.8" r="2.75"/><circle cx="950.6" cy="1131.2" r="2.75"/><circle cx="955.6" cy="1134.5" r="2.75"/><circle cx="981.4" cy="1135.1" r="2.75"/><circle cx="971.8" cy="1141.3" r="2.75"/></g>
<polyline points="1469.9,134.7 1454.8,134.5 1427.5,134.2 1336.0,134.5 1371.4,136.0 1384.3,136.1 1440.4,136.0 1339.7,143.7 1335.4,146.4 1356.9,147.8 1453.6,147.1 1469.3,150.7 1372.5,151.3 1391.9,151.4 1424.4,153.5 1414.3,157.2 1336.0,158.1 1373.2,165.2 1419.5,168.5 1470.3,169.7 1413.4,180.2 1403.3,189.2 1458.5,200.6 1398.9,216.8 1407.0,224.4 1409.5,232.8 1396.2,238.3 1392.5,237.7 1373.5,237.7 1356.9,237.7 1415.5,240.4 1325.2,241.0 1372.0,243.6 1362.7,248.5 1344.2,249.3 1380.2,250.3 1396.8,252.4 1410.3,253.2 1423.5,253.2 1434.3,253.2 1316.3,253.4 1373.2,255.4 1450.2,255.2 1457.6,255.8 1442.0,259.4 1457.4,263.7 1423.2,264.3 1405.7,264.4 1379.6,265.3 1371.9,265.3 1359.6,265.6 1316.3,264.4 1395.6,270.2 1466.6,273.0 1395.6,277.6 1446.2,289.2 1411.5,291.4 1372.2,295.0 1424.4,297.2 1438.0,300.7 1449.3,300.7 1373.5,312.2 1384.8,312.2 1393.5,312.2 1403.9,311.7 1418.7,312.2 1442.3,314.7 1452.7,314.7 1464.1,314.7 1372.2,323.3 1355.3,329.2 1412.5,330.6 1440.2,335.3 1342.1,337.1 1304.4,346.6 1269.7,346.6 1441.4,349.7 1468.1,351.3 1408.7,350.9 1382.7,355.3 1377.4,355.8 1422.6,355.0 1461.5,358.9 1376.5,360.5 1435.1,360.5 1454.5,363.6 1382.4,364.4 1395.9,365.4 1440.4,367.2 1341.3,367.2 1326.8,373.4 1449.3,381.4 1416.1,391.4 1422.9,393.0 1444.7,393.0 1285.3,393.3" fill="none" stroke="#0a0a0a" stroke-width="0.95" stroke-linejoin="round"/>
<g fill="#0a0a0a"><circle cx="1469.9" cy="134.7" r="2.70"/><circle cx="1454.8" cy="134.5" r="2.70"/><circle cx="1427.5" cy="134.2" r="2.70"/><circle cx="1336.0" cy="134.5" r="2.70"/><circle cx="1371.4" cy="136.0" r="2.70"/><circle cx="1384.3" cy="136.1" r="2.70"/><circle cx="1440.4" cy="136.0" r="2.70"/><circle cx="1339.7" cy="143.7" r="2.70"/><circle cx="1335.4" cy="146.4" r="2.70"/><circle cx="1356.9" cy="147.8" r="2.70"/><circle cx="1453.6" cy="147.1" r="2.70"/><circle cx="1469.3" cy="150.7" r="2.70"/><circle cx="1372.5" cy="151.3" r="2.70"/><circle cx="1391.9" cy="151.4" r="2.70"/><circle cx="1424.4" cy="153.5" r="2.70"/><circle cx="1414.3" cy="157.2" r="2.70"/><circle cx="1336.0" cy="158.1" r="2.70"/><circle cx="1373.2" cy="165.2" r="2.70"/><circle cx="1419.5" cy="168.5" r="2.70"/><circle cx="1470.3" cy="169.7" r="2.70"/><circle cx="1413.4" cy="180.2" r="2.70"/><circle cx="1403.3" cy="189.2" r="2.70"/><circle cx="1458.5" cy="200.6" r="2.70"/><circle cx="1398.9" cy="216.8" r="2.70"/><circle cx="1407.0" cy="224.4" r="2.70"/><circle cx="1409.5" cy="232.8" r="2.70"/><circle cx="1396.2" cy="238.3" r="2.70"/><circle cx="1392.5" cy="237.7" r="2.70"/><circle cx="1373.5" cy="237.7" r="2.70"/><circle cx="1356.9" cy="237.7" r="2.70"/><circle cx="1415.5" cy="240.4" r="2.70"/><circle cx="1325.2" cy="241.0" r="2.70"/><circle cx="1372.0" cy="243.6" r="2.70"/><circle cx="1362.7" cy="248.5" r="2.70"/><circle cx="1344.2" cy="249.3" r="2.70"/><circle cx="1380.2" cy="250.3" r="2.70"/><circle cx="1396.8" cy="252.4" r="2.70"/><circle cx="1410.3" cy="253.2" r="2.70"/><circle cx="1423.5" cy="253.2" r="2.70"/><circle cx="1434.3" cy="253.2" r="2.70"/><circle cx="1316.3" cy="253.4" r="2.70"/><circle cx="1373.2" cy="255.4" r="2.70"/><circle cx="1450.2" cy="255.2" r="2.70"/><circle cx="1457.6" cy="255.8" r="2.70"/><circle cx="1442.0" cy="259.4" r="2.70"/><circle cx="1457.4" cy="263.7" r="2.70"/><circle cx="1423.2" cy="264.3" r="2.70"/><circle cx="1405.7" cy="264.4" r="2.70"/><circle cx="1379.6" cy="265.3" r="2.70"/><circle cx="1371.9" cy="265.3" r="2.70"/><circle cx="1359.6" cy="265.6" r="2.70"/><circle cx="1316.3" cy="264.4" r="2.70"/><circle cx="1395.6" cy="270.2" r="2.70"/><circle cx="1466.6" cy="273.0" r="2.70"/><circle cx="1395.6" cy="277.6" r="2.70"/><circle cx="1446.2" cy="289.2" r="2.70"/><circle cx="1411.5" cy="291.4" r="2.70"/><circle cx="1372.2" cy="295.0" r="2.70"/><circle cx="1424.4" cy="297.2" r="2.70"/><circle cx="1438.0" cy="300.7" r="2.70"/><circle cx="1449.3" cy="300.7" r="2.70"/><circle cx="1373.5" cy="312.2" r="2.70"/><circle cx="1384.8" cy="312.2" r="2.70"/><circle cx="1393.5" cy="312.2" r="2.70"/><circle cx="1403.9" cy="311.7" r="2.70"/><circle cx="1418.7" cy="312.2" r="2.70"/><circle cx="1442.3" cy="314.7" r="2.70"/><circle cx="1452.7" cy="314.7" r="2.70"/><circle cx="1464.1" cy="314.7" r="2.70"/><circle cx="1372.2" cy="323.3" r="2.70"/><circle cx="1355.3" cy="329.2" r="2.70"/><circle cx="1412.5" cy="330.6" r="2.70"/><circle cx="1440.2" cy="335.3" r="2.70"/><circle cx="1342.1" cy="337.1" r="2.70"/><circle cx="1304.4" cy="346.6" r="2.70"/><circle cx="1269.7" cy="346.6" r="2.70"/><circle cx="1441.4" cy="349.7" r="2.70"/><circle cx="1468.1" cy="351.3" r="2.70"/><circle cx="1408.7" cy="350.9" r="2.70"/><circle cx="1382.7" cy="355.3" r="2.70"/><circle cx="1377.4" cy="355.8" r="2.70"/><circle cx="1422.6" cy="355.0" r="2.70"/><circle cx="1461.5" cy="358.9" r="2.70"/><circle cx="1376.5" cy="360.5" r="2.70"/><circle cx="1435.1" cy="360.5" r="2.70"/><circle cx="1454.5" cy="363.6" r="2.70"/><circle cx="1382.4" cy="364.4" r="2.70"/><circle cx="1395.9" cy="365.4" r="2.70"/><circle cx="1440.4" cy="367.2" r="2.70"/><circle cx="1341.3" cy="367.2" r="2.70"/><circle cx="1326.8" cy="373.4" r="2.70"/><circle cx="1449.3" cy="381.4" r="2.70"/><circle cx="1416.1" cy="391.4" r="2.70"/><circle cx="1422.9" cy="393.0" r="2.70"/><circle cx="1444.7" cy="393.0" r="2.70"/><circle cx="1285.3" cy="393.3" r="2.70"/></g>
<polyline points="1395.3,494.8 1411.2,496.2 1393.7,515.5 1422.0,524.1 1378.4,524.3 1382.4,526.3 1436.4,526.3 1468.3,526.5 1477.5,526.5 1309.6,531.1 1312.9,541.0 1406.0,546.4 1413.1,548.6 1465.0,562.5 1415.6,564.0 1313.3,565.0 1304.9,568.6 1271.3,579.1 1304.4,578.7 1313.3,590.6 1324.3,590.6 1432.2,608.5 1313.9,651.8 1304.4,654.5 1296.4,657.5 1324.9,663.7 1369.4,663.2 1300.6,671.7 1357.1,683.5 1275.8,687.0 1268.7,690.5 1297.5,688.0 1399.9,688.3 1309.6,690.1 1359.3,691.9 1307.4,700.7 1356.9,700.7 1335.6,710.1 1284.6,723.6 1340.0,725.7 1305.7,729.2 1310.2,735.6 1302.0,737.1 1322.7,738.0 1278.3,738.0 1284.0,742.1 1294.0,741.2 1366.1,743.5 1324.7,748.5 1313.9,758.8 1306.3,785.4 1266.8,797.3 1296.9,805.9 1314.9,808.7 1300.4,819.7 1404.4,823.1 1298.8,828.0 1325.8,828.9 1337.2,828.9 1461.1,834.4 1340.7,834.5 1313.3,831.4 1266.0,834.4 1309.8,837.5 1296.7,839.1 1290.2,843.1 1417.1,846.1 1263.8,854.2 1310.4,857.5 1334.2,861.2 1286.2,861.5 1298.3,862.0 1318.2,867.3 1297.3,871.0 1279.7,872.5 1468.4,873.7 1312.4,879.0 1282.3,881.1 1318.2,884.8 1328.0,891.0 1342.8,890.4 1305.0,893.1 1364.5,901.7 1305.0,902.7 1338.7,903.8 1450.9,904.7 1278.0,905.6 1438.8,907.6 1327.1,908.8 1445.3,910.0 1429.6,911.3 1458.8,912.4 1333.3,913.3 1296.4,913.3 1282.6,914.6 1301.6,915.8 1342.5,917.0 1416.7,919.5 1425.1,920.1 1435.9,929.9 1421.1,931.8 1407.6,933.6 1294.5,935.2 1390.0,937.3 1453.7,936.9 1433.0,940.4 1425.4,941.8 1416.7,940.4 1390.0,947.7 1410.1,953.3 1415.8,954.1 1287.5,953.3 1331.1,953.3 1366.7,957.2 1347.4,961.0 1314.9,961.0 1310.2,966.5 1366.7,966.8 1357.5,968.9 1338.8,971.3 1289.3,974.4 1353.2,975.6 1321.6,982.5 1345.2,984.8 1399.5,987.3 1413.1,987.4 1389.4,989.3 1382.9,989.5 1385.7,995.9 1350.5,1020.2 1356.3,1027.2 1420.4,1049.1 1393.5,1050.7 1381.4,1050.7 1263.3,1059.3 1263.3,1080.2 1274.9,1129.0" fill="none" stroke="#0a0a0a" stroke-width="0.95" stroke-linejoin="round"/>
<g fill="#0a0a0a"><circle cx="1395.3" cy="494.8" r="2.70"/><circle cx="1411.2" cy="496.2" r="2.70"/><circle cx="1393.7" cy="515.5" r="2.70"/><circle cx="1422.0" cy="524.1" r="2.70"/><circle cx="1378.4" cy="524.3" r="2.70"/><circle cx="1382.4" cy="526.3" r="2.70"/><circle cx="1436.4" cy="526.3" r="2.70"/><circle cx="1468.3" cy="526.5" r="2.70"/><circle cx="1477.5" cy="526.5" r="2.70"/><circle cx="1309.6" cy="531.1" r="2.70"/><circle cx="1312.9" cy="541.0" r="2.70"/><circle cx="1406.0" cy="546.4" r="2.70"/><circle cx="1413.1" cy="548.6" r="2.70"/><circle cx="1465.0" cy="562.5" r="2.70"/><circle cx="1415.6" cy="564.0" r="2.70"/><circle cx="1313.3" cy="565.0" r="2.70"/><circle cx="1304.9" cy="568.6" r="2.70"/><circle cx="1271.3" cy="579.1" r="2.70"/><circle cx="1304.4" cy="578.7" r="2.70"/><circle cx="1313.3" cy="590.6" r="2.70"/><circle cx="1324.3" cy="590.6" r="2.70"/><circle cx="1432.2" cy="608.5" r="2.70"/><circle cx="1313.9" cy="651.8" r="2.70"/><circle cx="1304.4" cy="654.5" r="2.70"/><circle cx="1296.4" cy="657.5" r="2.70"/><circle cx="1324.9" cy="663.7" r="2.70"/><circle cx="1369.4" cy="663.2" r="2.70"/><circle cx="1300.6" cy="671.7" r="2.70"/><circle cx="1357.1" cy="683.5" r="2.70"/><circle cx="1275.8" cy="687.0" r="2.70"/><circle cx="1268.7" cy="690.5" r="2.70"/><circle cx="1297.5" cy="688.0" r="2.70"/><circle cx="1399.9" cy="688.3" r="2.70"/><circle cx="1309.6" cy="690.1" r="2.70"/><circle cx="1359.3" cy="691.9" r="2.70"/><circle cx="1307.4" cy="700.7" r="2.70"/><circle cx="1356.9" cy="700.7" r="2.70"/><circle cx="1335.6" cy="710.1" r="2.70"/><circle cx="1284.6" cy="723.6" r="2.70"/><circle cx="1340.0" cy="725.7" r="2.70"/><circle cx="1305.7" cy="729.2" r="2.70"/><circle cx="1310.2" cy="735.6" r="2.70"/><circle cx="1302.0" cy="737.1" r="2.70"/><circle cx="1322.7" cy="738.0" r="2.70"/><circle cx="1278.3" cy="738.0" r="2.70"/><circle cx="1284.0" cy="742.1" r="2.70"/><circle cx="1294.0" cy="741.2" r="2.70"/><circle cx="1366.1" cy="743.5" r="2.70"/><circle cx="1324.7" cy="748.5" r="2.70"/><circle cx="1313.9" cy="758.8" r="2.70"/><circle cx="1306.3" cy="785.4" r="2.70"/><circle cx="1266.8" cy="797.3" r="2.70"/><circle cx="1296.9" cy="805.9" r="2.70"/><circle cx="1314.9" cy="808.7" r="2.70"/><circle cx="1300.4" cy="819.7" r="2.70"/><circle cx="1404.4" cy="823.1" r="2.70"/><circle cx="1298.8" cy="828.0" r="2.70"/><circle cx="1325.8" cy="828.9" r="2.70"/><circle cx="1337.2" cy="828.9" r="2.70"/><circle cx="1461.1" cy="834.4" r="2.70"/><circle cx="1340.7" cy="834.5" r="2.70"/><circle cx="1313.3" cy="831.4" r="2.70"/><circle cx="1266.0" cy="834.4" r="2.70"/><circle cx="1309.8" cy="837.5" r="2.70"/><circle cx="1296.7" cy="839.1" r="2.70"/><circle cx="1290.2" cy="843.1" r="2.70"/><circle cx="1417.1" cy="846.1" r="2.70"/><circle cx="1263.8" cy="854.2" r="2.70"/><circle cx="1310.4" cy="857.5" r="2.70"/><circle cx="1334.2" cy="861.2" r="2.70"/><circle cx="1286.2" cy="861.5" r="2.70"/><circle cx="1298.3" cy="862.0" r="2.70"/><circle cx="1318.2" cy="867.3" r="2.70"/><circle cx="1297.3" cy="871.0" r="2.70"/><circle cx="1279.7" cy="872.5" r="2.70"/><circle cx="1468.4" cy="873.7" r="2.70"/><circle cx="1312.4" cy="879.0" r="2.70"/><circle cx="1282.3" cy="881.1" r="2.70"/><circle cx="1318.2" cy="884.8" r="2.70"/><circle cx="1328.0" cy="891.0" r="2.70"/><circle cx="1342.8" cy="890.4" r="2.70"/><circle cx="1305.0" cy="893.1" r="2.70"/><circle cx="1364.5" cy="901.7" r="2.70"/><circle cx="1305.0" cy="902.7" r="2.70"/><circle cx="1338.7" cy="903.8" r="2.70"/><circle cx="1450.9" cy="904.7" r="2.70"/><circle cx="1278.0" cy="905.6" r="2.70"/><circle cx="1438.8" cy="907.6" r="2.70"/><circle cx="1327.1" cy="908.8" r="2.70"/><circle cx="1445.3" cy="910.0" r="2.70"/><circle cx="1429.6" cy="911.3" r="2.70"/><circle cx="1458.8" cy="912.4" r="2.70"/><circle cx="1333.3" cy="913.3" r="2.70"/><circle cx="1296.4" cy="913.3" r="2.70"/><circle cx="1282.6" cy="914.6" r="2.70"/><circle cx="1301.6" cy="915.8" r="2.70"/><circle cx="1342.5" cy="917.0" r="2.70"/><circle cx="1416.7" cy="919.5" r="2.70"/><circle cx="1425.1" cy="920.1" r="2.70"/><circle cx="1435.9" cy="929.9" r="2.70"/><circle cx="1421.1" cy="931.8" r="2.70"/><circle cx="1407.6" cy="933.6" r="2.70"/><circle cx="1294.5" cy="935.2" r="2.70"/><circle cx="1390.0" cy="937.3" r="2.70"/><circle cx="1453.7" cy="936.9" r="2.70"/><circle cx="1433.0" cy="940.4" r="2.70"/><circle cx="1425.4" cy="941.8" r="2.70"/><circle cx="1416.7" cy="940.4" r="2.70"/><circle cx="1390.0" cy="947.7" r="2.70"/><circle cx="1410.1" cy="953.3" r="2.70"/><circle cx="1415.8" cy="954.1" r="2.70"/><circle cx="1287.5" cy="953.3" r="2.70"/><circle cx="1331.1" cy="953.3" r="2.70"/><circle cx="1366.7" cy="957.2" r="2.70"/><circle cx="1347.4" cy="961.0" r="2.70"/><circle cx="1314.9" cy="961.0" r="2.70"/><circle cx="1310.2" cy="966.5" r="2.70"/><circle cx="1366.7" cy="966.8" r="2.70"/><circle cx="1357.5" cy="968.9" r="2.70"/><circle cx="1338.8" cy="971.3" r="2.70"/><circle cx="1289.3" cy="974.4" r="2.70"/><circle cx="1353.2" cy="975.6" r="2.70"/><circle cx="1321.6" cy="982.5" r="2.70"/><circle cx="1345.2" cy="984.8" r="2.70"/><circle cx="1399.5" cy="987.3" r="2.70"/><circle cx="1413.1" cy="987.4" r="2.70"/><circle cx="1389.4" cy="989.3" r="2.70"/><circle cx="1382.9" cy="989.5" r="2.70"/><circle cx="1385.7" cy="995.9" r="2.70"/><circle cx="1350.5" cy="1020.2" r="2.70"/><circle cx="1356.3" cy="1027.2" r="2.70"/><circle cx="1420.4" cy="1049.1" r="2.70"/><circle cx="1393.5" cy="1050.7" r="2.70"/><circle cx="1381.4" cy="1050.7" r="2.70"/><circle cx="1263.3" cy="1059.3" r="2.70"/><circle cx="1263.3" cy="1080.2" r="2.70"/><circle cx="1274.9" cy="1129.0" r="2.70"/></g>
<polyline points="1811.8,132.7 1806.7,143.4 1798.8,155.8 1817.3,166.4 1799.5,183.3 1745.1,188.4 1789.1,200.5 1762.7,213.2 1734.5,233.8 1807.7,246.2 1821.5,256.2 1813.9,267.9 1792.6,278.2 1820.4,295.0 1840.0,307.1 1818.4,310.9 1853.8,319.5 1864.1,329.4 1859.3,341.5 1855.9,353.5 1854.5,363.5 1872.4,376.2 1885.8,388.3 1881.3,399.9 1780.6,408.9 1860.7,409.9 1896.4,410.3 1827.3,421.3 1844.9,422.0 1905.4,426.8 1830.1,433.3 1855.9,443.3 1813.9,444.3 1836.9,444.3 1830.8,448.8 1828.0,452.2 1830.8,454.3 1884.1,455.7 1825.6,464.6 1828.0,466.0 1786.1,472.5 1838.0,477.0 1815.3,478.7 1835.2,489.0 1840.4,501.0 1836.9,513.1 1837.6,526.1 1851.7,535.1 1830.4,546.1 1836.6,556.1 1833.2,568.1 1831.4,580.1 1838.0,590.5 1834.9,602.1 1833.9,613.5 1833.9,625.9 1834.2,635.8 1842.8,648.2 1848.0,660.6 1830.8,670.9 1836.6,682.3 1832.1,692.6 1835.9,705.3 1836.6,715.3 1833.9,726.6 1836.6,740.0 1822.5,751.7 1807.0,764.1 1903.7,772.4 1790.5,772.4 1788.1,783.4 1788.2,783.3 1790.3,797.7 1817.1,807.8 1873.1,820.1 1823.2,828.4 1685.2,832.0 1840.5,841.1 1826.5,853.3 1834.0,865.6 1828.3,876.1 1837.3,885.9 1842.7,897.8 1836.2,908.3 1835.5,920.5 1833.0,929.2 1838.0,942.9 1833.0,954.9 1836.2,968.2 1834.4,977.3 1838.7,989.2 1835.5,998.6 1839.5,1010.5 1835.5,1023.9 1848.5,1068.7 1832.2,1090.3 1836.9,1100.4 1840.2,1112.0 1836.9,1123.6 1838.7,1136.6" fill="none" stroke="#0a0a0a" stroke-width="0.95" stroke-linejoin="round"/>
<g fill="#0a0a0a"><circle cx="1811.8" cy="132.7" r="2.80"/><circle cx="1806.7" cy="143.4" r="2.80"/><circle cx="1798.8" cy="155.8" r="2.80"/><circle cx="1817.3" cy="166.4" r="2.80"/><circle cx="1799.5" cy="183.3" r="2.80"/><circle cx="1745.1" cy="188.4" r="2.80"/><circle cx="1789.1" cy="200.5" r="2.80"/><circle cx="1762.7" cy="213.2" r="2.80"/><circle cx="1734.5" cy="233.8" r="2.80"/><circle cx="1807.7" cy="246.2" r="2.80"/><circle cx="1821.5" cy="256.2" r="2.80"/><circle cx="1813.9" cy="267.9" r="2.80"/><circle cx="1792.6" cy="278.2" r="2.80"/><circle cx="1820.4" cy="295.0" r="2.80"/><circle cx="1840.0" cy="307.1" r="2.80"/><circle cx="1818.4" cy="310.9" r="2.80"/><circle cx="1853.8" cy="319.5" r="2.80"/><circle cx="1864.1" cy="329.4" r="2.80"/><circle cx="1859.3" cy="341.5" r="2.80"/><circle cx="1855.9" cy="353.5" r="2.80"/><circle cx="1854.5" cy="363.5" r="2.80"/><circle cx="1872.4" cy="376.2" r="2.80"/><circle cx="1885.8" cy="388.3" r="2.80"/><circle cx="1881.3" cy="399.9" r="2.80"/><circle cx="1780.6" cy="408.9" r="2.80"/><circle cx="1860.7" cy="409.9" r="2.80"/><circle cx="1896.4" cy="410.3" r="2.80"/><circle cx="1827.3" cy="421.3" r="2.80"/><circle cx="1844.9" cy="422.0" r="2.80"/><circle cx="1905.4" cy="426.8" r="2.80"/><circle cx="1830.1" cy="433.3" r="2.80"/><circle cx="1855.9" cy="443.3" r="2.80"/><circle cx="1813.9" cy="444.3" r="2.80"/><circle cx="1836.9" cy="444.3" r="2.80"/><circle cx="1830.8" cy="448.8" r="2.80"/><circle cx="1828.0" cy="452.2" r="2.80"/><circle cx="1830.8" cy="454.3" r="2.80"/><circle cx="1884.1" cy="455.7" r="2.80"/><circle cx="1825.6" cy="464.6" r="2.80"/><circle cx="1828.0" cy="466.0" r="2.80"/><circle cx="1786.1" cy="472.5" r="2.80"/><circle cx="1838.0" cy="477.0" r="2.80"/><circle cx="1815.3" cy="478.7" r="2.80"/><circle cx="1835.2" cy="489.0" r="2.80"/><circle cx="1840.4" cy="501.0" r="2.80"/><circle cx="1836.9" cy="513.1" r="2.80"/><circle cx="1837.6" cy="526.1" r="2.80"/><circle cx="1851.7" cy="535.1" r="2.80"/><circle cx="1830.4" cy="546.1" r="2.80"/><circle cx="1836.6" cy="556.1" r="2.80"/><circle cx="1833.2" cy="568.1" r="2.80"/><circle cx="1831.4" cy="580.1" r="2.80"/><circle cx="1838.0" cy="590.5" r="2.80"/><circle cx="1834.9" cy="602.1" r="2.80"/><circle cx="1833.9" cy="613.5" r="2.80"/><circle cx="1833.9" cy="625.9" r="2.80"/><circle cx="1834.2" cy="635.8" r="2.80"/><circle cx="1842.8" cy="648.2" r="2.80"/><circle cx="1848.0" cy="660.6" r="2.80"/><circle cx="1830.8" cy="670.9" r="2.80"/><circle cx="1836.6" cy="682.3" r="2.80"/><circle cx="1832.1" cy="692.6" r="2.80"/><circle cx="1835.9" cy="705.3" r="2.80"/><circle cx="1836.6" cy="715.3" r="2.80"/><circle cx="1833.9" cy="726.6" r="2.80"/><circle cx="1836.6" cy="740.0" r="2.80"/><circle cx="1822.5" cy="751.7" r="2.80"/><circle cx="1807.0" cy="764.1" r="2.80"/><circle cx="1903.7" cy="772.4" r="2.80"/><circle cx="1790.5" cy="772.4" r="2.80"/><circle cx="1788.1" cy="783.4" r="2.80"/><circle cx="1788.2" cy="783.3" r="2.80"/><circle cx="1790.3" cy="797.7" r="2.80"/><circle cx="1817.1" cy="807.8" r="2.80"/><circle cx="1873.1" cy="820.1" r="2.80"/><circle cx="1823.2" cy="828.4" r="2.80"/><circle cx="1685.2" cy="832.0" r="2.80"/><circle cx="1840.5" cy="841.1" r="2.80"/><circle cx="1826.5" cy="853.3" r="2.80"/><circle cx="1834.0" cy="865.6" r="2.80"/><circle cx="1828.3" cy="876.1" r="2.80"/><circle cx="1837.3" cy="885.9" r="2.80"/><circle cx="1842.7" cy="897.8" r="2.80"/><circle cx="1836.2" cy="908.3" r="2.80"/><circle cx="1835.5" cy="920.5" r="2.80"/><circle cx="1833.0" cy="929.2" r="2.80"/><circle cx="1838.0" cy="942.9" r="2.80"/><circle cx="1833.0" cy="954.9" r="2.80"/><circle cx="1836.2" cy="968.2" r="2.80"/><circle cx="1834.4" cy="977.3" r="2.80"/><circle cx="1838.7" cy="989.2" r="2.80"/><circle cx="1835.5" cy="998.6" r="2.80"/><circle cx="1839.5" cy="1010.5" r="2.80"/><circle cx="1835.5" cy="1023.9" r="2.80"/><circle cx="1848.5" cy="1068.7" r="2.80"/><circle cx="1832.2" cy="1090.3" r="2.80"/><circle cx="1836.9" cy="1100.4" r="2.80"/><circle cx="1840.2" cy="1112.0" r="2.80"/><circle cx="1836.9" cy="1123.6" r="2.80"/><circle cx="1838.7" cy="1136.6" r="2.80"/></g>
</svg>
</body></html>
